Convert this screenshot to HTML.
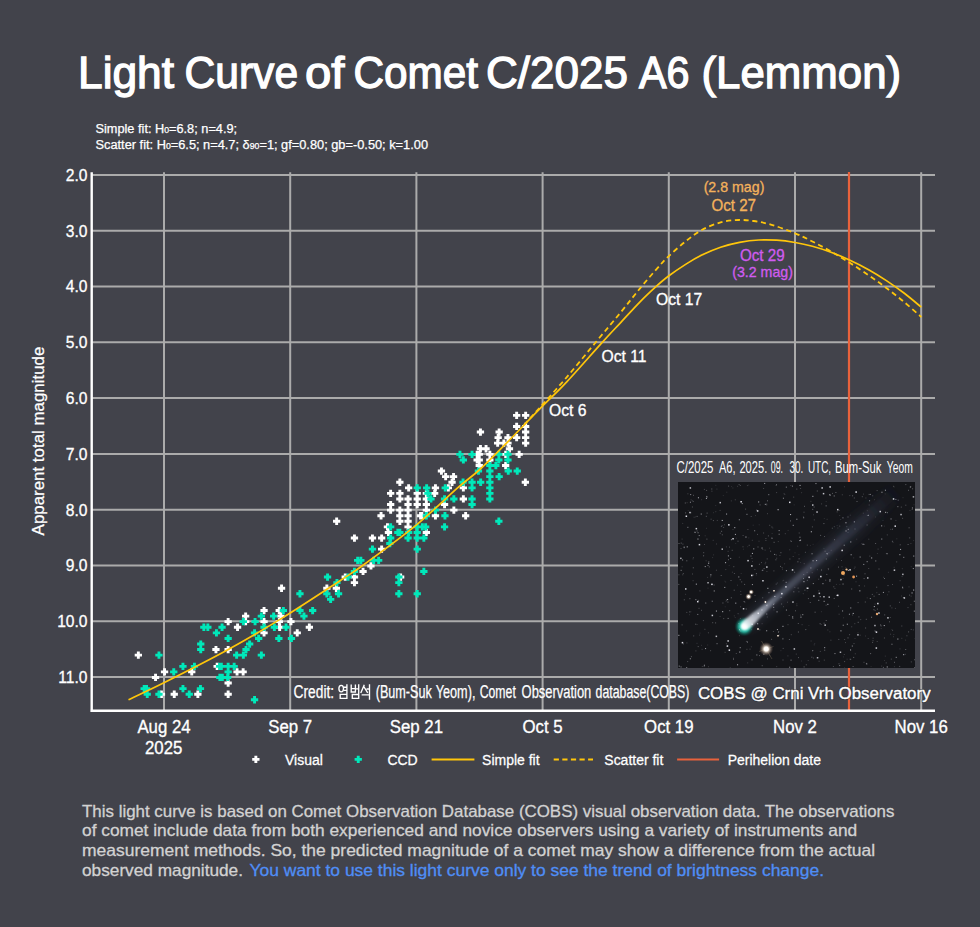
<!DOCTYPE html><html><head><meta charset="utf-8"><title>Light Curve</title>
<style>html,body{margin:0;padding:0;background:#42434b;}svg{display:block;}text{font-family:"Liberation Sans",sans-serif;}</style></head><body>
<svg width="980" height="927" viewBox="0 0 980 927">
<defs>
<radialGradient id="head"><stop offset="0" stop-color="#e0fff8"/><stop offset="0.3" stop-color="#6fe8d4"/><stop offset="0.55" stop-color="#27b8a2" stop-opacity="0.9"/><stop offset="0.8" stop-color="#11665c" stop-opacity="0.5"/><stop offset="1" stop-color="#0a3a36" stop-opacity="0"/></radialGradient>
<radialGradient id="star"><stop offset="0" stop-color="#ffffff"/><stop offset="0.3" stop-color="#fffaf4"/><stop offset="0.5" stop-color="#d8c8b8" stop-opacity="0.7"/><stop offset="1" stop-color="#806050" stop-opacity="0"/></radialGradient>
<linearGradient id="tail" x1="0" y1="0" x2="1" y2="0"><stop offset="0" stop-color="#a8b0c0" stop-opacity="0.6"/><stop offset="0.2" stop-color="#747c90" stop-opacity="0.5"/><stop offset="0.5" stop-color="#555b72" stop-opacity="0.4"/><stop offset="0.8" stop-color="#40455a" stop-opacity="0.25"/><stop offset="1" stop-color="#30344a" stop-opacity="0"/></linearGradient>
<filter id="b1" x="-20%" y="-200%" width="140%" height="500%"><feGaussianBlur stdDeviation="1.6"/></filter>
<filter id="b2" x="-20%" y="-300%" width="140%" height="700%"><feGaussianBlur stdDeviation="4"/></filter>
<filter id="b05" x="-20%" y="-100%" width="140%" height="300%"><feGaussianBlur stdDeviation="0.8"/></filter>
<linearGradient id="tail2" x1="0" y1="0" x2="1" y2="0"><stop offset="0" stop-color="#50586c" stop-opacity="0.35"/><stop offset="0.7" stop-color="#3a4054" stop-opacity="0.28"/><stop offset="1" stop-color="#2a2e3c" stop-opacity="0"/></linearGradient>
<linearGradient id="fan" x1="0" y1="0" x2="1" y2="0"><stop offset="0" stop-color="#ffffff" stop-opacity="0.95"/><stop offset="0.3" stop-color="#d8dce4" stop-opacity="0.75"/><stop offset="1" stop-color="#9098ac" stop-opacity="0.1"/></linearGradient>
<clipPath id="imgclip"><rect x="678" y="482" width="237" height="186"/></clipPath>
</defs>
<rect width="980" height="927" fill="#42434b"/>
<text x="78.00" y="88.3" font-size="44.6" fill="#fff" stroke="#fff" stroke-width="1.3" textLength="96.04" lengthAdjust="spacingAndGlyphs">Light</text>
<text x="184.50" y="88.3" font-size="44.6" fill="#fff" stroke="#fff" stroke-width="1.3" textLength="113.55" lengthAdjust="spacingAndGlyphs">Curve</text>
<text x="305.00" y="88.3" font-size="44.6" fill="#fff" stroke="#fff" stroke-width="1.3" textLength="39.51" lengthAdjust="spacingAndGlyphs">of</text>
<text x="353.50" y="88.3" font-size="44.6" fill="#fff" stroke="#fff" stroke-width="1.3" textLength="124.50" lengthAdjust="spacingAndGlyphs">Comet</text>
<text x="486.00" y="88.3" font-size="44.6" fill="#fff" stroke="#fff" stroke-width="1.3" textLength="142.03" lengthAdjust="spacingAndGlyphs">C/2025</text>
<text x="639.00" y="88.3" font-size="44.6" fill="#fff" stroke="#fff" stroke-width="1.3" textLength="50.53" lengthAdjust="spacingAndGlyphs">A6</text>
<text x="701.50" y="88.3" font-size="44.6" fill="#fff" stroke="#fff" stroke-width="1.3" textLength="199.58" lengthAdjust="spacingAndGlyphs">(Lemmon)</text>
<text x="95.5" y="133" font-size="12.5" fill="#fff" stroke="#fff" stroke-width="0.25" textLength="141.6" lengthAdjust="spacingAndGlyphs">Simple fit: H<tspan font-size="8.5">0</tspan>=6.8; n=4.9;</text>
<text x="95.5" y="149" font-size="12.5" fill="#fff" stroke="#fff" stroke-width="0.25" textLength="332.5" lengthAdjust="spacingAndGlyphs">Scatter fit: H<tspan font-size="8.5">0</tspan>=6.5; n=4.7; δ<tspan font-size="8.5">90</tspan>=1; gf=0.80; gb=-0.50; k=1.00</text>
<path d="M92 175.00H935M92 230.78H935M92 286.56H935M92 342.34H935M92 398.12H935M92 453.90H935M92 509.68H935M92 565.46H935M92 621.24H935M92 677.02H935M164.0 172.3V710M290.2 172.3V710M416.4 172.3V710M542.6 172.3V710M668.8 172.3V710M795.0 172.3V710M921.2 172.3V710" stroke="#ababab" stroke-width="2" fill="none"/>
<path d="M849 172V710" stroke="#e8623c" stroke-width="2.2" fill="none"/>
<path d="M136.9 651.5h2.9v2.2h2.2v2.9h-2.2v2.2h-2.9v-2.2h-2.2v-2.9h2.2zM154.1 673.8h2.9v2.2h2.2v2.9h-2.2v2.2h-2.9v-2.2h-2.2v-2.9h2.2zM163.1 668.2h2.9v2.2h2.2v2.9h-2.2v2.2h-2.9v-2.2h-2.2v-2.9h2.2zM160.0 690.6h2.9v2.2h2.2v2.9h-2.2v2.2h-2.9v-2.2h-2.2v-2.9h2.2zM172.8 690.6h2.9v2.2h2.2v2.9h-2.2v2.2h-2.9v-2.2h-2.2v-2.9h2.2zM190.3 668.2h2.9v2.2h2.2v2.9h-2.2v2.2h-2.9v-2.2h-2.2v-2.9h2.2zM196.4 690.6h2.9v2.2h2.2v2.9h-2.2v2.2h-2.9v-2.2h-2.2v-2.9h2.2zM214.5 645.9h2.9v2.2h2.2v2.9h-2.2v2.2h-2.9v-2.2h-2.2v-2.9h2.2zM215.7 662.7h2.9v2.2h2.2v2.9h-2.2v2.2h-2.9v-2.2h-2.2v-2.9h2.2zM226.7 618.0h2.9v2.2h2.2v2.9h-2.2v2.2h-2.9v-2.2h-2.2v-2.9h2.2zM226.7 645.9h2.9v2.2h2.2v2.9h-2.2v2.2h-2.9v-2.2h-2.2v-2.9h2.2zM226.7 679.4h2.9v2.2h2.2v2.9h-2.2v2.2h-2.9v-2.2h-2.2v-2.9h2.2zM226.7 690.6h2.9v2.2h2.2v2.9h-2.2v2.2h-2.9v-2.2h-2.2v-2.9h2.2zM236.1 623.6h2.9v2.2h2.2v2.9h-2.2v2.2h-2.9v-2.2h-2.2v-2.9h2.2zM235.6 668.2h2.9v2.2h2.2v2.9h-2.2v2.2h-2.9v-2.2h-2.2v-2.9h2.2zM241.7 668.2h2.9v2.2h2.2v2.9h-2.2v2.2h-2.9v-2.2h-2.2v-2.9h2.2zM244.2 612.5h2.9v2.2h2.2v2.9h-2.2v2.2h-2.9v-2.2h-2.2v-2.9h2.2zM244.2 618.0h2.9v2.2h2.2v2.9h-2.2v2.2h-2.9v-2.2h-2.2v-2.9h2.2zM262.6 606.9h2.9v2.2h2.2v2.9h-2.2v2.2h-2.9v-2.2h-2.2v-2.9h2.2zM262.6 618.0h2.9v2.2h2.2v2.9h-2.2v2.2h-2.9v-2.2h-2.2v-2.9h2.2zM262.6 629.2h2.9v2.2h2.2v2.9h-2.2v2.2h-2.9v-2.2h-2.2v-2.9h2.2zM277.8 606.9h2.9v2.2h2.2v2.9h-2.2v2.2h-2.9v-2.2h-2.2v-2.9h2.2zM280.1 584.6h2.9v2.2h2.2v2.9h-2.2v2.2h-2.9v-2.2h-2.2v-2.9h2.2zM279.4 612.5h2.9v2.2h2.2v2.9h-2.2v2.2h-2.9v-2.2h-2.2v-2.9h2.2zM278.2 623.6h2.9v2.2h2.2v2.9h-2.2v2.2h-2.9v-2.2h-2.2v-2.9h2.2zM289.5 618.0h2.9v2.2h2.2v2.9h-2.2v2.2h-2.9v-2.2h-2.2v-2.9h2.2zM295.8 629.2h2.9v2.2h2.2v2.9h-2.2v2.2h-2.9v-2.2h-2.2v-2.9h2.2zM307.9 623.6h2.9v2.2h2.2v2.9h-2.2v2.2h-2.9v-2.2h-2.2v-2.9h2.2zM325.4 584.6h2.9v2.2h2.2v2.9h-2.2v2.2h-2.9v-2.2h-2.2v-2.9h2.2zM334.9 584.6h2.9v2.2h2.2v2.9h-2.2v2.2h-2.9v-2.2h-2.2v-2.9h2.2zM335.2 517.6h2.9v2.2h2.2v2.9h-2.2v2.2h-2.9v-2.2h-2.2v-2.9h2.2zM353.0 534.4h2.9v2.2h2.2v2.9h-2.2v2.2h-2.9v-2.2h-2.2v-2.9h2.2zM371.0 534.4h2.9v2.2h2.2v2.9h-2.2v2.2h-2.9v-2.2h-2.2v-2.9h2.2zM380.2 534.4h2.9v2.2h2.2v2.9h-2.2v2.2h-2.9v-2.2h-2.2v-2.9h2.2zM379.6 512.1h2.9v2.2h2.2v2.9h-2.2v2.2h-2.9v-2.2h-2.2v-2.9h2.2zM380.2 545.5h2.9v2.2h2.2v2.9h-2.2v2.2h-2.9v-2.2h-2.2v-2.9h2.2zM369.5 562.3h2.9v2.2h2.2v2.9h-2.2v2.2h-2.9v-2.2h-2.2v-2.9h2.2zM361.6 567.8h2.9v2.2h2.2v2.9h-2.2v2.2h-2.9v-2.2h-2.2v-2.9h2.2zM353.0 573.4h2.9v2.2h2.2v2.9h-2.2v2.2h-2.9v-2.2h-2.2v-2.9h2.2zM353.0 579.0h2.9v2.2h2.2v2.9h-2.2v2.2h-2.9v-2.2h-2.2v-2.9h2.2zM343.8 573.4h2.9v2.2h2.2v2.9h-2.2v2.2h-2.9v-2.2h-2.2v-2.9h2.2zM389.2 489.7h2.9v2.2h2.2v2.9h-2.2v2.2h-2.9v-2.2h-2.2v-2.9h2.2zM389.2 500.9h2.9v2.2h2.2v2.9h-2.2v2.2h-2.9v-2.2h-2.2v-2.9h2.2zM389.2 506.5h2.9v2.2h2.2v2.9h-2.2v2.2h-2.9v-2.2h-2.2v-2.9h2.2zM386.0 523.2h2.9v2.2h2.2v2.9h-2.2v2.2h-2.9v-2.2h-2.2v-2.9h2.2zM387.0 528.8h2.9v2.2h2.2v2.9h-2.2v2.2h-2.9v-2.2h-2.2v-2.9h2.2zM398.4 478.6h2.9v2.2h2.2v2.9h-2.2v2.2h-2.9v-2.2h-2.2v-2.9h2.2zM398.4 489.7h2.9v2.2h2.2v2.9h-2.2v2.2h-2.9v-2.2h-2.2v-2.9h2.2zM398.4 495.3h2.9v2.2h2.2v2.9h-2.2v2.2h-2.9v-2.2h-2.2v-2.9h2.2zM398.4 506.5h2.9v2.2h2.2v2.9h-2.2v2.2h-2.9v-2.2h-2.2v-2.9h2.2zM398.4 512.1h2.9v2.2h2.2v2.9h-2.2v2.2h-2.9v-2.2h-2.2v-2.9h2.2zM398.4 517.6h2.9v2.2h2.2v2.9h-2.2v2.2h-2.9v-2.2h-2.2v-2.9h2.2zM407.2 484.2h2.9v2.2h2.2v2.9h-2.2v2.2h-2.9v-2.2h-2.2v-2.9h2.2zM406.6 495.3h2.9v2.2h2.2v2.9h-2.2v2.2h-2.9v-2.2h-2.2v-2.9h2.2zM406.6 500.9h2.9v2.2h2.2v2.9h-2.2v2.2h-2.9v-2.2h-2.2v-2.9h2.2zM406.6 506.5h2.9v2.2h2.2v2.9h-2.2v2.2h-2.9v-2.2h-2.2v-2.9h2.2zM406.6 512.1h2.9v2.2h2.2v2.9h-2.2v2.2h-2.9v-2.2h-2.2v-2.9h2.2zM406.6 517.6h2.9v2.2h2.2v2.9h-2.2v2.2h-2.9v-2.2h-2.2v-2.9h2.2zM406.6 523.2h2.9v2.2h2.2v2.9h-2.2v2.2h-2.9v-2.2h-2.2v-2.9h2.2zM415.8 489.7h2.9v2.2h2.2v2.9h-2.2v2.2h-2.9v-2.2h-2.2v-2.9h2.2zM415.8 495.3h2.9v2.2h2.2v2.9h-2.2v2.2h-2.9v-2.2h-2.2v-2.9h2.2zM415.8 500.9h2.9v2.2h2.2v2.9h-2.2v2.2h-2.9v-2.2h-2.2v-2.9h2.2zM419.1 512.1h2.9v2.2h2.2v2.9h-2.2v2.2h-2.9v-2.2h-2.2v-2.9h2.2zM399.2 573.4h2.9v2.2h2.2v2.9h-2.2v2.2h-2.9v-2.2h-2.2v-2.9h2.2zM515.2 411.7h2.9v2.2h2.2v2.9h-2.2v2.2h-2.9v-2.2h-2.2v-2.9h2.2zM524.2 411.7h2.9v2.2h2.2v2.9h-2.2v2.2h-2.9v-2.2h-2.2v-2.9h2.2zM515.2 422.8h2.9v2.2h2.2v2.9h-2.2v2.2h-2.9v-2.2h-2.2v-2.9h2.2zM524.2 422.8h2.9v2.2h2.2v2.9h-2.2v2.2h-2.9v-2.2h-2.2v-2.9h2.2zM524.2 428.4h2.9v2.2h2.2v2.9h-2.2v2.2h-2.9v-2.2h-2.2v-2.9h2.2zM524.2 434.0h2.9v2.2h2.2v2.9h-2.2v2.2h-2.9v-2.2h-2.2v-2.9h2.2zM524.2 439.5h2.9v2.2h2.2v2.9h-2.2v2.2h-2.9v-2.2h-2.2v-2.9h2.2zM515.2 434.0h2.9v2.2h2.2v2.9h-2.2v2.2h-2.9v-2.2h-2.2v-2.9h2.2zM479.0 428.4h2.9v2.2h2.2v2.9h-2.2v2.2h-2.9v-2.2h-2.2v-2.9h2.2zM497.7 428.4h2.9v2.2h2.2v2.9h-2.2v2.2h-2.9v-2.2h-2.2v-2.9h2.2zM496.7 434.0h2.9v2.2h2.2v2.9h-2.2v2.2h-2.9v-2.2h-2.2v-2.9h2.2zM496.2 439.5h2.9v2.2h2.2v2.9h-2.2v2.2h-2.9v-2.2h-2.2v-2.9h2.2zM506.5 434.0h2.9v2.2h2.2v2.9h-2.2v2.2h-2.9v-2.2h-2.2v-2.9h2.2zM506.5 439.5h2.9v2.2h2.2v2.9h-2.2v2.2h-2.9v-2.2h-2.2v-2.9h2.2zM508.0 445.1h2.9v2.2h2.2v2.9h-2.2v2.2h-2.9v-2.2h-2.2v-2.9h2.2zM517.7 450.7h2.9v2.2h2.2v2.9h-2.2v2.2h-2.9v-2.2h-2.2v-2.9h2.2zM479.0 445.1h2.9v2.2h2.2v2.9h-2.2v2.2h-2.9v-2.2h-2.2v-2.9h2.2zM484.6 445.1h2.9v2.2h2.2v2.9h-2.2v2.2h-2.9v-2.2h-2.2v-2.9h2.2zM477.8 450.7h2.9v2.2h2.2v2.9h-2.2v2.2h-2.9v-2.2h-2.2v-2.9h2.2zM477.8 456.3h2.9v2.2h2.2v2.9h-2.2v2.2h-2.9v-2.2h-2.2v-2.9h2.2zM477.8 461.9h2.9v2.2h2.2v2.9h-2.2v2.2h-2.9v-2.2h-2.2v-2.9h2.2zM488.4 450.7h2.9v2.2h2.2v2.9h-2.2v2.2h-2.9v-2.2h-2.2v-2.9h2.2zM504.2 461.9h2.9v2.2h2.2v2.9h-2.2v2.2h-2.9v-2.2h-2.2v-2.9h2.2zM504.2 450.7h2.9v2.2h2.2v2.9h-2.2v2.2h-2.9v-2.2h-2.2v-2.9h2.2zM523.9 478.6h2.9v2.2h2.2v2.9h-2.2v2.2h-2.9v-2.2h-2.2v-2.9h2.2zM440.0 467.4h2.9v2.2h2.2v2.9h-2.2v2.2h-2.9v-2.2h-2.2v-2.9h2.2zM444.2 473.0h2.9v2.2h2.2v2.9h-2.2v2.2h-2.9v-2.2h-2.2v-2.9h2.2zM452.1 473.0h2.9v2.2h2.2v2.9h-2.2v2.2h-2.9v-2.2h-2.2v-2.9h2.2zM450.6 478.6h2.9v2.2h2.2v2.9h-2.2v2.2h-2.9v-2.2h-2.2v-2.9h2.2zM446.9 484.2h2.9v2.2h2.2v2.9h-2.2v2.2h-2.9v-2.2h-2.2v-2.9h2.2zM434.0 484.2h2.9v2.2h2.2v2.9h-2.2v2.2h-2.9v-2.2h-2.2v-2.9h2.2zM433.2 489.7h2.9v2.2h2.2v2.9h-2.2v2.2h-2.9v-2.2h-2.2v-2.9h2.2zM461.9 484.2h2.9v2.2h2.2v2.9h-2.2v2.2h-2.9v-2.2h-2.2v-2.9h2.2zM461.9 495.3h2.9v2.2h2.2v2.9h-2.2v2.2h-2.9v-2.2h-2.2v-2.9h2.2zM443.1 500.9h2.9v2.2h2.2v2.9h-2.2v2.2h-2.9v-2.2h-2.2v-2.9h2.2zM452.4 506.5h2.9v2.2h2.2v2.9h-2.2v2.2h-2.9v-2.2h-2.2v-2.9h2.2zM464.2 512.1h2.9v2.2h2.2v2.9h-2.2v2.2h-2.9v-2.2h-2.2v-2.9h2.2zM434.0 512.1h2.9v2.2h2.2v2.9h-2.2v2.2h-2.9v-2.2h-2.2v-2.9h2.2zM424.9 489.7h2.9v2.2h2.2v2.9h-2.2v2.2h-2.9v-2.2h-2.2v-2.9h2.2zM424.9 495.3h2.9v2.2h2.2v2.9h-2.2v2.2h-2.9v-2.2h-2.2v-2.9h2.2zM424.9 500.9h2.9v2.2h2.2v2.9h-2.2v2.2h-2.9v-2.2h-2.2v-2.9h2.2zM424.9 506.5h2.9v2.2h2.2v2.9h-2.2v2.2h-2.9v-2.2h-2.2v-2.9h2.2zM424.9 528.8h2.9v2.2h2.2v2.9h-2.2v2.2h-2.9v-2.2h-2.2v-2.9h2.2zM420.4 512.1h2.9v2.2h2.2v2.9h-2.2v2.2h-2.9v-2.2h-2.2v-2.9h2.2zM277.9 618.0h2.9v2.2h2.2v2.9h-2.2v2.2h-2.9v-2.2h-2.2v-2.9h2.2zM488.4 456.3h2.9v2.2h2.2v2.9h-2.2v2.2h-2.9v-2.2h-2.2v-2.9h2.2zM475.7 450.7h2.9v2.2h2.2v2.9h-2.2v2.2h-2.9v-2.2h-2.2v-2.9h2.2zM475.7 456.3h2.9v2.2h2.2v2.9h-2.2v2.2h-2.9v-2.2h-2.2v-2.9h2.2zM502.4 439.5h2.9v2.2h2.2v2.9h-2.2v2.2h-2.9v-2.2h-2.2v-2.9h2.2z" fill="#ffffff"/>
<path d="M157.5 651.5h2.9v2.2h2.2v2.9h-2.2v2.2h-2.9v-2.2h-2.2v-2.9h2.2zM142.7 685.0h2.9v2.2h2.2v2.9h-2.2v2.2h-2.9v-2.2h-2.2v-2.9h2.2zM145.1 685.0h2.9v2.2h2.2v2.9h-2.2v2.2h-2.9v-2.2h-2.2v-2.9h2.2zM218.2 662.7h2.9v2.2h2.2v2.9h-2.2v2.2h-2.9v-2.2h-2.2v-2.9h2.2zM220.9 673.8h2.9v2.2h2.2v2.9h-2.2v2.2h-2.9v-2.2h-2.2v-2.9h2.2zM145.8 690.6h2.9v2.2h2.2v2.9h-2.2v2.2h-2.9v-2.2h-2.2v-2.9h2.2zM157.5 690.6h2.9v2.2h2.2v2.9h-2.2v2.2h-2.9v-2.2h-2.2v-2.9h2.2zM172.3 668.2h2.9v2.2h2.2v2.9h-2.2v2.2h-2.9v-2.2h-2.2v-2.9h2.2zM181.5 662.7h2.9v2.2h2.2v2.9h-2.2v2.2h-2.9v-2.2h-2.2v-2.9h2.2zM181.5 685.0h2.9v2.2h2.2v2.9h-2.2v2.2h-2.9v-2.2h-2.2v-2.9h2.2zM187.8 690.6h2.9v2.2h2.2v2.9h-2.2v2.2h-2.9v-2.2h-2.2v-2.9h2.2zM193.0 662.7h2.9v2.2h2.2v2.9h-2.2v2.2h-2.9v-2.2h-2.2v-2.9h2.2zM199.0 685.0h2.9v2.2h2.2v2.9h-2.2v2.2h-2.9v-2.2h-2.2v-2.9h2.2zM199.3 640.4h2.9v2.2h2.2v2.9h-2.2v2.2h-2.9v-2.2h-2.2v-2.9h2.2zM199.3 645.9h2.9v2.2h2.2v2.9h-2.2v2.2h-2.9v-2.2h-2.2v-2.9h2.2zM202.4 623.6h2.9v2.2h2.2v2.9h-2.2v2.2h-2.9v-2.2h-2.2v-2.9h2.2zM206.4 623.6h2.9v2.2h2.2v2.9h-2.2v2.2h-2.9v-2.2h-2.2v-2.9h2.2zM215.0 629.2h2.9v2.2h2.2v2.9h-2.2v2.2h-2.9v-2.2h-2.2v-2.9h2.2zM220.6 623.6h2.9v2.2h2.2v2.9h-2.2v2.2h-2.9v-2.2h-2.2v-2.9h2.2zM219.9 662.7h2.9v2.2h2.2v2.9h-2.2v2.2h-2.9v-2.2h-2.2v-2.9h2.2zM226.7 662.7h2.9v2.2h2.2v2.9h-2.2v2.2h-2.9v-2.2h-2.2v-2.9h2.2zM232.7 662.7h2.9v2.2h2.2v2.9h-2.2v2.2h-2.9v-2.2h-2.2v-2.9h2.2zM226.7 668.2h2.9v2.2h2.2v2.9h-2.2v2.2h-2.9v-2.2h-2.2v-2.9h2.2zM218.4 673.8h2.9v2.2h2.2v2.9h-2.2v2.2h-2.9v-2.2h-2.2v-2.9h2.2zM226.2 673.8h2.9v2.2h2.2v2.9h-2.2v2.2h-2.9v-2.2h-2.2v-2.9h2.2zM226.7 634.8h2.9v2.2h2.2v2.9h-2.2v2.2h-2.9v-2.2h-2.2v-2.9h2.2zM235.2 651.5h2.9v2.2h2.2v2.9h-2.2v2.2h-2.9v-2.2h-2.2v-2.9h2.2zM241.9 651.5h2.9v2.2h2.2v2.9h-2.2v2.2h-2.9v-2.2h-2.2v-2.9h2.2zM241.9 618.0h2.9v2.2h2.2v2.9h-2.2v2.2h-2.9v-2.2h-2.2v-2.9h2.2zM244.6 645.9h2.9v2.2h2.2v2.9h-2.2v2.2h-2.9v-2.2h-2.2v-2.9h2.2zM248.2 640.4h2.9v2.2h2.2v2.9h-2.2v2.2h-2.9v-2.2h-2.2v-2.9h2.2zM253.1 629.2h2.9v2.2h2.2v2.9h-2.2v2.2h-2.9v-2.2h-2.2v-2.9h2.2zM253.6 618.0h2.9v2.2h2.2v2.9h-2.2v2.2h-2.9v-2.2h-2.2v-2.9h2.2zM257.2 634.8h2.9v2.2h2.2v2.9h-2.2v2.2h-2.9v-2.2h-2.2v-2.9h2.2zM259.9 612.5h2.9v2.2h2.2v2.9h-2.2v2.2h-2.9v-2.2h-2.2v-2.9h2.2zM259.9 651.5h2.9v2.2h2.2v2.9h-2.2v2.2h-2.9v-2.2h-2.2v-2.9h2.2zM262.6 623.6h2.9v2.2h2.2v2.9h-2.2v2.2h-2.9v-2.2h-2.2v-2.9h2.2zM253.1 696.1h2.9v2.2h2.2v2.9h-2.2v2.2h-2.9v-2.2h-2.2v-2.9h2.2zM272.2 612.5h2.9v2.2h2.2v2.9h-2.2v2.2h-2.9v-2.2h-2.2v-2.9h2.2zM272.9 623.6h2.9v2.2h2.2v2.9h-2.2v2.2h-2.9v-2.2h-2.2v-2.9h2.2zM277.4 634.8h2.9v2.2h2.2v2.9h-2.2v2.2h-2.9v-2.2h-2.2v-2.9h2.2zM281.9 606.9h2.9v2.2h2.2v2.9h-2.2v2.2h-2.9v-2.2h-2.2v-2.9h2.2zM284.6 623.6h2.9v2.2h2.2v2.9h-2.2v2.2h-2.9v-2.2h-2.2v-2.9h2.2zM290.0 634.8h2.9v2.2h2.2v2.9h-2.2v2.2h-2.9v-2.2h-2.2v-2.9h2.2zM298.5 590.1h2.9v2.2h2.2v2.9h-2.2v2.2h-2.9v-2.2h-2.2v-2.9h2.2zM298.5 606.9h2.9v2.2h2.2v2.9h-2.2v2.2h-2.9v-2.2h-2.2v-2.9h2.2zM302.5 612.5h2.9v2.2h2.2v2.9h-2.2v2.2h-2.9v-2.2h-2.2v-2.9h2.2zM311.2 606.9h2.9v2.2h2.2v2.9h-2.2v2.2h-2.9v-2.2h-2.2v-2.9h2.2zM326.1 573.4h2.9v2.2h2.2v2.9h-2.2v2.2h-2.9v-2.2h-2.2v-2.9h2.2zM325.4 590.1h2.9v2.2h2.2v2.9h-2.2v2.2h-2.9v-2.2h-2.2v-2.9h2.2zM329.2 595.7h2.9v2.2h2.2v2.9h-2.2v2.2h-2.9v-2.2h-2.2v-2.9h2.2zM335.5 579.0h2.9v2.2h2.2v2.9h-2.2v2.2h-2.9v-2.2h-2.2v-2.9h2.2zM337.1 590.1h2.9v2.2h2.2v2.9h-2.2v2.2h-2.9v-2.2h-2.2v-2.9h2.2zM346.6 573.4h2.9v2.2h2.2v2.9h-2.2v2.2h-2.9v-2.2h-2.2v-2.9h2.2zM353.0 567.8h2.9v2.2h2.2v2.9h-2.2v2.2h-2.9v-2.2h-2.2v-2.9h2.2zM356.2 556.7h2.9v2.2h2.2v2.9h-2.2v2.2h-2.9v-2.2h-2.2v-2.9h2.2zM359.4 556.7h2.9v2.2h2.2v2.9h-2.2v2.2h-2.9v-2.2h-2.2v-2.9h2.2zM371.0 545.5h2.9v2.2h2.2v2.9h-2.2v2.2h-2.9v-2.2h-2.2v-2.9h2.2zM372.2 556.7h2.9v2.2h2.2v2.9h-2.2v2.2h-2.9v-2.2h-2.2v-2.9h2.2zM377.2 556.7h2.9v2.2h2.2v2.9h-2.2v2.2h-2.9v-2.2h-2.2v-2.9h2.2zM389.2 523.2h2.9v2.2h2.2v2.9h-2.2v2.2h-2.9v-2.2h-2.2v-2.9h2.2zM389.2 534.4h2.9v2.2h2.2v2.9h-2.2v2.2h-2.9v-2.2h-2.2v-2.9h2.2zM388.4 539.9h2.9v2.2h2.2v2.9h-2.2v2.2h-2.9v-2.2h-2.2v-2.9h2.2zM398.4 528.8h2.9v2.2h2.2v2.9h-2.2v2.2h-2.9v-2.2h-2.2v-2.9h2.2zM396.4 528.8h2.9v2.2h2.2v2.9h-2.2v2.2h-2.9v-2.2h-2.2v-2.9h2.2zM407.2 528.8h2.9v2.2h2.2v2.9h-2.2v2.2h-2.9v-2.2h-2.2v-2.9h2.2zM406.6 534.4h2.9v2.2h2.2v2.9h-2.2v2.2h-2.9v-2.2h-2.2v-2.9h2.2zM415.8 484.2h2.9v2.2h2.2v2.9h-2.2v2.2h-2.9v-2.2h-2.2v-2.9h2.2zM415.8 523.2h2.9v2.2h2.2v2.9h-2.2v2.2h-2.9v-2.2h-2.2v-2.9h2.2zM415.8 528.8h2.9v2.2h2.2v2.9h-2.2v2.2h-2.9v-2.2h-2.2v-2.9h2.2zM415.8 534.4h2.9v2.2h2.2v2.9h-2.2v2.2h-2.9v-2.2h-2.2v-2.9h2.2zM415.8 545.5h2.9v2.2h2.2v2.9h-2.2v2.2h-2.9v-2.2h-2.2v-2.9h2.2zM415.8 590.1h2.9v2.2h2.2v2.9h-2.2v2.2h-2.9v-2.2h-2.2v-2.9h2.2zM397.4 590.1h2.9v2.2h2.2v2.9h-2.2v2.2h-2.9v-2.2h-2.2v-2.9h2.2zM397.4 573.4h2.9v2.2h2.2v2.9h-2.2v2.2h-2.9v-2.2h-2.2v-2.9h2.2zM397.4 579.0h2.9v2.2h2.2v2.9h-2.2v2.2h-2.9v-2.2h-2.2v-2.9h2.2zM422.4 567.8h2.9v2.2h2.2v2.9h-2.2v2.2h-2.9v-2.2h-2.2v-2.9h2.2zM420.9 523.2h2.9v2.2h2.2v2.9h-2.2v2.2h-2.9v-2.2h-2.2v-2.9h2.2zM422.4 534.4h2.9v2.2h2.2v2.9h-2.2v2.2h-2.9v-2.2h-2.2v-2.9h2.2zM458.5 450.7h2.9v2.2h2.2v2.9h-2.2v2.2h-2.9v-2.2h-2.2v-2.9h2.2zM461.9 456.3h2.9v2.2h2.2v2.9h-2.2v2.2h-2.9v-2.2h-2.2v-2.9h2.2zM470.6 450.7h2.9v2.2h2.2v2.9h-2.2v2.2h-2.9v-2.2h-2.2v-2.9h2.2zM477.0 467.4h2.9v2.2h2.2v2.9h-2.2v2.2h-2.9v-2.2h-2.2v-2.9h2.2zM488.4 461.9h2.9v2.2h2.2v2.9h-2.2v2.2h-2.9v-2.2h-2.2v-2.9h2.2zM488.4 467.4h2.9v2.2h2.2v2.9h-2.2v2.2h-2.9v-2.2h-2.2v-2.9h2.2zM488.4 473.0h2.9v2.2h2.2v2.9h-2.2v2.2h-2.9v-2.2h-2.2v-2.9h2.2zM488.4 478.6h2.9v2.2h2.2v2.9h-2.2v2.2h-2.9v-2.2h-2.2v-2.9h2.2zM488.4 484.2h2.9v2.2h2.2v2.9h-2.2v2.2h-2.9v-2.2h-2.2v-2.9h2.2zM488.4 489.7h2.9v2.2h2.2v2.9h-2.2v2.2h-2.9v-2.2h-2.2v-2.9h2.2zM488.4 495.3h2.9v2.2h2.2v2.9h-2.2v2.2h-2.9v-2.2h-2.2v-2.9h2.2zM494.4 461.9h2.9v2.2h2.2v2.9h-2.2v2.2h-2.9v-2.2h-2.2v-2.9h2.2zM497.4 450.7h2.9v2.2h2.2v2.9h-2.2v2.2h-2.9v-2.2h-2.2v-2.9h2.2zM497.4 456.3h2.9v2.2h2.2v2.9h-2.2v2.2h-2.9v-2.2h-2.2v-2.9h2.2zM497.7 473.0h2.9v2.2h2.2v2.9h-2.2v2.2h-2.9v-2.2h-2.2v-2.9h2.2zM506.5 450.7h2.9v2.2h2.2v2.9h-2.2v2.2h-2.9v-2.2h-2.2v-2.9h2.2zM506.5 456.3h2.9v2.2h2.2v2.9h-2.2v2.2h-2.9v-2.2h-2.2v-2.9h2.2zM506.8 467.4h2.9v2.2h2.2v2.9h-2.2v2.2h-2.9v-2.2h-2.2v-2.9h2.2zM515.8 467.4h2.9v2.2h2.2v2.9h-2.2v2.2h-2.9v-2.2h-2.2v-2.9h2.2zM479.2 478.6h2.9v2.2h2.2v2.9h-2.2v2.2h-2.9v-2.2h-2.2v-2.9h2.2zM470.6 478.6h2.9v2.2h2.2v2.9h-2.2v2.2h-2.9v-2.2h-2.2v-2.9h2.2zM470.6 484.2h2.9v2.2h2.2v2.9h-2.2v2.2h-2.9v-2.2h-2.2v-2.9h2.2zM470.6 495.3h2.9v2.2h2.2v2.9h-2.2v2.2h-2.9v-2.2h-2.2v-2.9h2.2zM470.6 500.9h2.9v2.2h2.2v2.9h-2.2v2.2h-2.9v-2.2h-2.2v-2.9h2.2zM461.6 478.6h2.9v2.2h2.2v2.9h-2.2v2.2h-2.9v-2.2h-2.2v-2.9h2.2zM452.4 495.3h2.9v2.2h2.2v2.9h-2.2v2.2h-2.9v-2.2h-2.2v-2.9h2.2zM443.1 495.3h2.9v2.2h2.2v2.9h-2.2v2.2h-2.9v-2.2h-2.2v-2.9h2.2zM443.8 484.2h2.9v2.2h2.2v2.9h-2.2v2.2h-2.9v-2.2h-2.2v-2.9h2.2zM425.2 484.2h2.9v2.2h2.2v2.9h-2.2v2.2h-2.9v-2.2h-2.2v-2.9h2.2zM426.5 489.7h2.9v2.2h2.2v2.9h-2.2v2.2h-2.9v-2.2h-2.2v-2.9h2.2zM429.5 495.3h2.9v2.2h2.2v2.9h-2.2v2.2h-2.9v-2.2h-2.2v-2.9h2.2zM434.0 506.5h2.9v2.2h2.2v2.9h-2.2v2.2h-2.9v-2.2h-2.2v-2.9h2.2zM424.9 512.1h2.9v2.2h2.2v2.9h-2.2v2.2h-2.9v-2.2h-2.2v-2.9h2.2zM443.5 512.1h2.9v2.2h2.2v2.9h-2.2v2.2h-2.9v-2.2h-2.2v-2.9h2.2zM443.1 523.2h2.9v2.2h2.2v2.9h-2.2v2.2h-2.9v-2.2h-2.2v-2.9h2.2zM424.2 523.2h2.9v2.2h2.2v2.9h-2.2v2.2h-2.9v-2.2h-2.2v-2.9h2.2zM497.4 517.6h2.9v2.2h2.2v2.9h-2.2v2.2h-2.9v-2.2h-2.2v-2.9h2.2z" fill="#00e8ba"/>
<path d="M524.0 424.8 C526.7 421.9 532.8 415.4 540.0 407.4 C547.2 399.4 557.6 387.9 567.0 376.9 C576.4 365.9 587.6 352.0 596.6 341.2 C605.6 330.4 613.7 320.9 620.9 312.1 C628.1 303.3 634.0 295.7 639.8 288.6 C645.6 281.6 651.1 275.2 655.9 269.8 C660.7 264.4 663.6 261.0 668.6 256.3 C673.6 251.6 680.1 245.8 685.6 241.4 C691.1 237.0 696.0 233.2 701.8 230.0 C707.6 226.8 714.5 224.1 720.6 222.4 C726.7 220.7 733.0 220.2 738.5 220.0 C744.0 219.8 748.3 220.2 753.8 221.0 C759.3 221.8 764.7 222.8 771.6 224.8 C778.5 226.9 788.3 230.5 795.1 233.3 C801.9 236.1 806.5 238.5 812.4 241.5 C818.3 244.5 824.2 247.6 830.3 251.1 C836.4 254.6 842.5 258.3 848.9 262.3 C855.3 266.3 862.4 270.9 868.6 275.2 C874.9 279.5 880.5 283.5 886.4 288.0 C892.3 292.5 898.5 297.2 904.3 302.1 C910.1 307.0 918.5 314.6 921.4 317.1" stroke="#ffc60a" stroke-width="1.8" fill="none" stroke-dasharray="5.2 3.6"/>
<path d="M128.5 699.8 C134.6 696.9 148.3 690.6 164.9 682.3 C181.5 674.0 208.4 660.4 227.8 649.8 C247.2 639.1 262.9 629.9 281.6 618.4 C300.3 606.9 326.1 589.8 340.0 580.7 C353.9 571.6 352.4 573.0 365.1 563.7 C377.8 554.4 400.9 537.7 416.2 525.1 C431.5 512.5 446.3 497.8 457.0 488.4 C467.7 479.0 471.6 477.1 480.4 469.0 C489.2 460.9 500.1 449.6 510.0 439.5 C519.9 429.4 530.5 418.2 540.0 408.6 C549.5 399.0 556.7 392.6 567.0 381.6 C577.3 370.6 593.0 352.5 602.0 342.6 C611.0 332.7 614.6 329.1 620.9 322.3 C627.2 315.6 634.0 308.0 639.8 302.1 C645.6 296.2 651.1 291.1 655.9 286.7 C660.7 282.3 663.6 279.7 668.6 276.0 C673.6 272.3 680.1 267.9 685.6 264.4 C691.1 260.9 696.0 258.0 701.8 255.1 C707.6 252.2 714.3 249.3 720.6 247.2 C726.9 245.1 733.1 243.5 739.5 242.3 C745.9 241.1 752.7 240.3 758.9 240.0 C765.1 239.7 770.7 239.8 776.7 240.2 C782.7 240.6 789.2 241.5 795.1 242.5 C801.0 243.5 806.5 244.7 812.4 246.3 C818.3 247.9 824.2 249.8 830.3 252.0 C836.4 254.2 842.5 256.8 848.9 259.7 C855.3 262.6 862.4 266.2 868.6 269.7 C874.9 273.2 880.5 276.7 886.4 280.6 C892.3 284.5 898.5 288.9 904.3 293.3 C910.1 297.7 918.5 304.9 921.4 307.2" stroke="#ffc60a" stroke-width="1.7" fill="none"/>
<g clip-path="url(#imgclip)">
<rect x="678" y="482" width="237" height="186" fill="#141519"/>
<g transform="translate(744.8 626) rotate(-41.76)">
<path d="M0 -7 L70 -8 L210 -11 L210 11 L70 8 L0 7Z" fill="url(#tail2)" filter="url(#b2)"/>
<circle cx="-0.8" cy="0" r="10" fill="url(#head)"/>
<path d="M2 -2.6 L60 -3.2 L205 -5.5 L205 5.5 L60 3.2 L2 2.6Z" fill="url(#tail)" filter="url(#b1)"/>
<path d="M-3 0 C-3 -5.2 4 -5.4 12 -4.4 C22 -3.4 32 -2.6 46 -2.2 L46 2.2 C32 2.6 22 3.4 12 4.4 C4 5.4 -3 5.2 -3 0Z" fill="url(#fan)" filter="url(#b05)"/>
</g>
<g fill="#e8e8f0"><rect x="785.2" y="586.1" width="1.5" height="1.5" fill-opacity="0.84"/><rect x="798.4" y="591.3" width="1.0" height="1.0" fill-opacity="0.25"/><rect x="827.3" y="629.5" width="1.0" height="1.0" fill-opacity="0.20"/><rect x="699.5" y="632.6" width="1.0" height="1.0" fill-opacity="0.13"/><rect x="910.8" y="661.4" width="1.0" height="1.0" fill-opacity="0.28"/><rect x="715.3" y="484.8" width="1.0" height="1.0" fill-opacity="0.14"/><rect x="723.1" y="527.0" width="1.0" height="1.0" fill-opacity="0.24"/><rect x="782.4" y="638.7" width="1.0" height="1.0" fill-opacity="0.29"/><rect x="796.4" y="605.2" width="1.0" height="1.0" fill-opacity="0.19"/><rect x="914.4" y="667.2" width="1.1" height="1.1" fill-opacity="0.61"/><rect x="752.7" y="524.7" width="1.0" height="1.0" fill-opacity="0.14"/><rect x="859.6" y="556.5" width="1.1" height="1.1" fill-opacity="0.52"/><rect x="905.1" y="639.6" width="1.0" height="1.0" fill-opacity="0.17"/><rect x="893.7" y="569.4" width="1.5" height="1.5" fill-opacity="0.82"/><rect x="695.3" y="599.1" width="1.1" height="1.1" fill-opacity="0.48"/><rect x="698.7" y="543.9" width="1.5" height="1.5" fill-opacity="0.93"/><rect x="706.0" y="527.8" width="1.0" height="1.0" fill-opacity="0.14"/><rect x="866.9" y="515.0" width="1.0" height="1.0" fill-opacity="0.24"/><rect x="723.2" y="618.1" width="1.0" height="1.0" fill-opacity="0.29"/><rect x="705.6" y="560.3" width="1.0" height="1.0" fill-opacity="0.19"/><rect x="908.1" y="631.4" width="1.0" height="1.0" fill-opacity="0.35"/><rect x="727.9" y="555.3" width="1.1" height="1.1" fill-opacity="0.59"/><rect x="701.8" y="666.0" width="1.0" height="1.0" fill-opacity="0.19"/><rect x="861.1" y="543.2" width="1.0" height="1.0" fill-opacity="0.14"/><rect x="699.4" y="590.4" width="1.0" height="1.0" fill-opacity="0.28"/><rect x="766.1" y="566.3" width="1.5" height="1.5" fill-opacity="0.85"/><rect x="814.2" y="643.2" width="1.0" height="1.0" fill-opacity="0.16"/><rect x="893.3" y="634.1" width="1.0" height="1.0" fill-opacity="0.17"/><rect x="853.2" y="656.9" width="1.0" height="1.0" fill-opacity="0.37"/><rect x="887.1" y="594.3" width="1.0" height="1.0" fill-opacity="0.15"/><rect x="687.2" y="661.1" width="1.0" height="1.0" fill-opacity="0.30"/><rect x="738.9" y="635.2" width="1.0" height="1.0" fill-opacity="0.20"/><rect x="719.6" y="616.0" width="1.0" height="1.0" fill-opacity="0.18"/><rect x="810.6" y="640.5" width="1.0" height="1.0" fill-opacity="0.19"/><rect x="895.4" y="519.9" width="1.0" height="1.0" fill-opacity="0.19"/><rect x="783.6" y="493.2" width="1.0" height="1.0" fill-opacity="0.22"/><rect x="813.6" y="506.5" width="1.0" height="1.0" fill-opacity="0.35"/><rect x="910.4" y="604.2" width="1.0" height="1.0" fill-opacity="0.27"/><rect x="711.3" y="488.5" width="1.0" height="1.0" fill-opacity="0.36"/><rect x="844.1" y="661.1" width="1.0" height="1.0" fill-opacity="0.29"/><rect x="792.3" y="617.9" width="1.0" height="1.0" fill-opacity="0.38"/><rect x="695.8" y="583.6" width="1.1" height="1.1" fill-opacity="0.67"/><rect x="852.7" y="612.9" width="1.1" height="1.1" fill-opacity="0.67"/><rect x="761.4" y="609.4" width="1.1" height="1.1" fill-opacity="0.66"/><rect x="776.9" y="629.0" width="1.1" height="1.1" fill-opacity="0.57"/><rect x="826.1" y="553.1" width="1.0" height="1.0" fill-opacity="0.28"/><rect x="697.0" y="600.9" width="1.5" height="1.5" fill-opacity="0.96"/><rect x="850.6" y="554.2" width="1.1" height="1.1" fill-opacity="0.57"/><rect x="782.4" y="637.9" width="1.0" height="1.0" fill-opacity="0.32"/><rect x="685.1" y="593.8" width="1.0" height="1.0" fill-opacity="0.18"/><rect x="843.5" y="574.5" width="1.0" height="1.0" fill-opacity="0.36"/><rect x="738.6" y="484.1" width="1.0" height="1.0" fill-opacity="0.30"/><rect x="726.0" y="513.5" width="1.1" height="1.1" fill-opacity="0.60"/><rect x="782.7" y="647.9" width="1.0" height="1.0" fill-opacity="0.29"/><rect x="725.0" y="562.1" width="1.1" height="1.1" fill-opacity="0.67"/><rect x="886.6" y="553.5" width="1.0" height="1.0" fill-opacity="0.20"/><rect x="710.3" y="574.3" width="1.1" height="1.1" fill-opacity="0.65"/><rect x="846.6" y="658.7" width="1.0" height="1.0" fill-opacity="0.16"/><rect x="784.8" y="533.2" width="1.0" height="1.0" fill-opacity="0.23"/><rect x="826.3" y="573.9" width="1.0" height="1.0" fill-opacity="0.34"/><rect x="910.7" y="566.2" width="1.0" height="1.0" fill-opacity="0.13"/><rect x="884.9" y="489.7" width="1.1" height="1.1" fill-opacity="0.57"/><rect x="751.2" y="629.2" width="1.0" height="1.0" fill-opacity="0.16"/><rect x="785.8" y="486.6" width="1.1" height="1.1" fill-opacity="0.47"/><rect x="711.4" y="490.7" width="1.0" height="1.0" fill-opacity="0.24"/><rect x="827.3" y="603.8" width="1.1" height="1.1" fill-opacity="0.69"/><rect x="840.2" y="519.1" width="1.0" height="1.0" fill-opacity="0.17"/><rect x="680.6" y="569.8" width="1.1" height="1.1" fill-opacity="0.45"/><rect x="742.5" y="546.3" width="1.0" height="1.0" fill-opacity="0.26"/><rect x="823.6" y="622.7" width="1.0" height="1.0" fill-opacity="0.33"/><rect x="892.8" y="498.2" width="1.5" height="1.5" fill-opacity="0.92"/><rect x="708.8" y="566.4" width="1.0" height="1.0" fill-opacity="0.36"/><rect x="767.3" y="587.8" width="1.1" height="1.1" fill-opacity="0.64"/><rect x="901.8" y="568.2" width="1.0" height="1.0" fill-opacity="0.17"/><rect x="849.1" y="634.2" width="1.0" height="1.0" fill-opacity="0.31"/><rect x="728.6" y="649.4" width="1.5" height="1.5" fill-opacity="0.99"/><rect x="805.3" y="629.1" width="1.0" height="1.0" fill-opacity="0.36"/><rect x="880.8" y="546.8" width="1.0" height="1.0" fill-opacity="0.23"/><rect x="808.4" y="624.9" width="1.0" height="1.0" fill-opacity="0.13"/><rect x="869.8" y="493.9" width="1.1" height="1.1" fill-opacity="0.45"/><rect x="757.4" y="628.6" width="1.0" height="1.0" fill-opacity="0.16"/><rect x="800.4" y="616.6" width="1.1" height="1.1" fill-opacity="0.61"/><rect x="902.1" y="573.6" width="1.5" height="1.5" fill-opacity="0.73"/><rect x="730.5" y="580.0" width="1.0" height="1.0" fill-opacity="0.31"/><rect x="829.4" y="579.2" width="1.1" height="1.1" fill-opacity="0.57"/><rect x="751.9" y="552.9" width="1.1" height="1.1" fill-opacity="0.67"/><rect x="727.4" y="640.2" width="1.5" height="1.5" fill-opacity="0.86"/><rect x="813.8" y="519.4" width="1.0" height="1.0" fill-opacity="0.25"/><rect x="821.4" y="487.2" width="1.5" height="1.5" fill-opacity="0.85"/><rect x="772.9" y="631.0" width="1.0" height="1.0" fill-opacity="0.25"/><rect x="841.8" y="494.3" width="1.0" height="1.0" fill-opacity="0.23"/><rect x="904.8" y="653.8" width="1.0" height="1.0" fill-opacity="0.24"/><rect x="708.1" y="562.7" width="1.1" height="1.1" fill-opacity="0.67"/><rect x="790.9" y="541.0" width="1.0" height="1.0" fill-opacity="0.28"/><rect x="897.3" y="506.1" width="1.1" height="1.1" fill-opacity="0.41"/><rect x="724.0" y="524.3" width="1.0" height="1.0" fill-opacity="0.20"/><rect x="762.2" y="597.3" width="1.0" height="1.0" fill-opacity="0.31"/><rect x="707.1" y="576.9" width="1.0" height="1.0" fill-opacity="0.17"/><rect x="803.7" y="563.2" width="1.0" height="1.0" fill-opacity="0.23"/><rect x="803.5" y="511.7" width="1.0" height="1.0" fill-opacity="0.28"/><rect x="829.3" y="580.5" width="1.1" height="1.1" fill-opacity="0.58"/><rect x="881.1" y="525.3" width="1.1" height="1.1" fill-opacity="0.64"/><rect x="891.9" y="540.8" width="1.0" height="1.0" fill-opacity="0.36"/><rect x="729.7" y="667.7" width="1.1" height="1.1" fill-opacity="0.44"/><rect x="734.7" y="617.1" width="1.0" height="1.0" fill-opacity="0.15"/><rect x="875.2" y="560.4" width="1.1" height="1.1" fill-opacity="0.44"/><rect x="773.5" y="609.4" width="1.0" height="1.0" fill-opacity="0.17"/><rect x="839.7" y="651.5" width="1.5" height="1.5" fill-opacity="0.73"/><rect x="797.8" y="623.0" width="1.0" height="1.0" fill-opacity="0.30"/><rect x="722.8" y="495.1" width="1.0" height="1.0" fill-opacity="0.13"/><rect x="808.7" y="577.8" width="1.0" height="1.0" fill-opacity="0.16"/><rect x="721.7" y="519.9" width="1.1" height="1.1" fill-opacity="0.70"/><rect x="897.7" y="499.7" width="1.0" height="1.0" fill-opacity="0.37"/><rect x="787.5" y="624.2" width="1.0" height="1.0" fill-opacity="0.24"/><rect x="800.1" y="562.0" width="1.0" height="1.0" fill-opacity="0.12"/><rect x="844.1" y="639.0" width="1.0" height="1.0" fill-opacity="0.24"/><rect x="853.2" y="557.4" width="1.0" height="1.0" fill-opacity="0.16"/><rect x="799.5" y="484.9" width="1.1" height="1.1" fill-opacity="0.64"/><rect x="845.0" y="642.1" width="1.0" height="1.0" fill-opacity="0.23"/><rect x="820.1" y="575.8" width="1.5" height="1.5" fill-opacity="0.94"/><rect x="739.2" y="651.5" width="1.1" height="1.1" fill-opacity="0.63"/><rect x="871.1" y="557.4" width="1.1" height="1.1" fill-opacity="0.66"/><rect x="842.7" y="624.7" width="1.1" height="1.1" fill-opacity="0.52"/><rect x="849.3" y="495.1" width="1.0" height="1.0" fill-opacity="0.24"/><rect x="680.5" y="548.1" width="1.0" height="1.0" fill-opacity="0.28"/><rect x="733.0" y="657.7" width="1.0" height="1.0" fill-opacity="0.21"/><rect x="834.4" y="587.9" width="1.0" height="1.0" fill-opacity="0.22"/><rect x="915.0" y="601.5" width="1.1" height="1.1" fill-opacity="0.63"/><rect x="910.3" y="486.2" width="1.0" height="1.0" fill-opacity="0.31"/><rect x="738.8" y="556.7" width="1.0" height="1.0" fill-opacity="0.17"/><rect x="767.0" y="500.3" width="1.0" height="1.0" fill-opacity="0.36"/><rect x="808.4" y="576.5" width="1.5" height="1.5" fill-opacity="0.87"/><rect x="913.8" y="600.7" width="1.1" height="1.1" fill-opacity="0.42"/><rect x="819.6" y="623.2" width="1.0" height="1.0" fill-opacity="0.36"/><rect x="715.9" y="569.7" width="1.0" height="1.0" fill-opacity="0.25"/><rect x="822.8" y="492.9" width="1.5" height="1.5" fill-opacity="0.83"/><rect x="802.8" y="593.2" width="1.0" height="1.0" fill-opacity="0.19"/><rect x="833.3" y="586.3" width="1.0" height="1.0" fill-opacity="0.31"/><rect x="748.2" y="484.6" width="1.0" height="1.0" fill-opacity="0.13"/><rect x="715.1" y="622.4" width="1.0" height="1.0" fill-opacity="0.35"/><rect x="855.4" y="491.3" width="1.5" height="1.5" fill-opacity="0.98"/><rect x="695.4" y="650.4" width="1.0" height="1.0" fill-opacity="0.24"/><rect x="908.6" y="527.3" width="1.0" height="1.0" fill-opacity="0.36"/><rect x="849.3" y="569.1" width="1.5" height="1.5" fill-opacity="0.95"/><rect x="821.1" y="503.4" width="1.0" height="1.0" fill-opacity="0.24"/><rect x="726.3" y="491.7" width="1.0" height="1.0" fill-opacity="0.15"/><rect x="783.0" y="606.2" width="1.0" height="1.0" fill-opacity="0.19"/><rect x="816.0" y="560.0" width="1.1" height="1.1" fill-opacity="0.56"/><rect x="914.4" y="659.2" width="1.1" height="1.1" fill-opacity="0.47"/><rect x="705.0" y="648.0" width="1.1" height="1.1" fill-opacity="0.59"/><rect x="763.1" y="532.5" width="1.0" height="1.0" fill-opacity="0.27"/><rect x="818.2" y="599.8" width="1.1" height="1.1" fill-opacity="0.46"/><rect x="737.0" y="664.2" width="1.1" height="1.1" fill-opacity="0.66"/><rect x="687.4" y="493.3" width="1.0" height="1.0" fill-opacity="0.23"/><rect x="825.7" y="501.1" width="1.0" height="1.0" fill-opacity="0.14"/><rect x="698.5" y="607.8" width="1.0" height="1.0" fill-opacity="0.28"/><rect x="766.4" y="571.0" width="1.0" height="1.0" fill-opacity="0.21"/><rect x="854.5" y="638.0" width="1.0" height="1.0" fill-opacity="0.15"/><rect x="869.8" y="598.0" width="1.1" height="1.1" fill-opacity="0.46"/><rect x="778.6" y="530.0" width="1.1" height="1.1" fill-opacity="0.51"/><rect x="832.9" y="666.0" width="1.0" height="1.0" fill-opacity="0.26"/><rect x="854.8" y="653.3" width="1.0" height="1.0" fill-opacity="0.22"/><rect x="701.0" y="644.8" width="1.0" height="1.0" fill-opacity="0.14"/><rect x="811.7" y="572.2" width="1.0" height="1.0" fill-opacity="0.20"/><rect x="861.8" y="496.2" width="1.0" height="1.0" fill-opacity="0.29"/><rect x="697.4" y="538.5" width="1.1" height="1.1" fill-opacity="0.61"/><rect x="745.1" y="508.6" width="1.0" height="1.0" fill-opacity="0.31"/><rect x="764.8" y="503.8" width="1.1" height="1.1" fill-opacity="0.57"/><rect x="895.7" y="656.8" width="1.1" height="1.1" fill-opacity="0.53"/><rect x="868.3" y="538.7" width="1.0" height="1.0" fill-opacity="0.22"/><rect x="899.5" y="648.4" width="1.0" height="1.0" fill-opacity="0.21"/><rect x="764.6" y="549.6" width="1.0" height="1.0" fill-opacity="0.22"/><rect x="724.2" y="586.9" width="1.1" height="1.1" fill-opacity="0.56"/><rect x="876.2" y="586.7" width="1.0" height="1.0" fill-opacity="0.32"/><rect x="886.8" y="534.4" width="1.0" height="1.0" fill-opacity="0.25"/><rect x="807.0" y="587.5" width="1.5" height="1.5" fill-opacity="0.90"/><rect x="868.6" y="493.9" width="1.0" height="1.0" fill-opacity="0.32"/><rect x="697.9" y="497.2" width="1.1" height="1.1" fill-opacity="0.67"/><rect x="698.1" y="599.9" width="1.0" height="1.0" fill-opacity="0.31"/><rect x="831.8" y="527.7" width="1.0" height="1.0" fill-opacity="0.32"/><rect x="801.6" y="624.2" width="1.0" height="1.0" fill-opacity="0.21"/><rect x="907.5" y="607.1" width="1.0" height="1.0" fill-opacity="0.26"/><rect x="848.9" y="613.7" width="1.1" height="1.1" fill-opacity="0.52"/><rect x="873.8" y="606.0" width="1.1" height="1.1" fill-opacity="0.64"/><rect x="875.6" y="647.3" width="1.5" height="1.5" fill-opacity="0.89"/><rect x="802.2" y="614.1" width="1.1" height="1.1" fill-opacity="0.53"/><rect x="777.6" y="509.2" width="1.1" height="1.1" fill-opacity="0.70"/><rect x="767.0" y="513.2" width="1.0" height="1.0" fill-opacity="0.23"/><rect x="747.2" y="662.4" width="1.0" height="1.0" fill-opacity="0.20"/><rect x="705.2" y="602.5" width="1.1" height="1.1" fill-opacity="0.45"/><rect x="692.8" y="567.3" width="1.0" height="1.0" fill-opacity="0.36"/><rect x="686.6" y="502.2" width="1.0" height="1.0" fill-opacity="0.18"/><rect x="733.8" y="615.4" width="1.0" height="1.0" fill-opacity="0.18"/><rect x="721.8" y="534.3" width="1.0" height="1.0" fill-opacity="0.32"/><rect x="751.9" y="584.0" width="1.1" height="1.1" fill-opacity="0.54"/><rect x="739.7" y="647.1" width="1.1" height="1.1" fill-opacity="0.50"/><rect x="807.7" y="660.0" width="1.0" height="1.0" fill-opacity="0.18"/><rect x="689.8" y="658.2" width="1.1" height="1.1" fill-opacity="0.52"/><rect x="803.0" y="577.9" width="1.0" height="1.0" fill-opacity="0.38"/><rect x="833.8" y="526.2" width="1.0" height="1.0" fill-opacity="0.24"/><rect x="766.1" y="630.2" width="1.1" height="1.1" fill-opacity="0.58"/><rect x="715.3" y="511.2" width="1.0" height="1.0" fill-opacity="0.19"/><rect x="884.0" y="578.0" width="1.0" height="1.0" fill-opacity="0.38"/><rect x="741.2" y="581.4" width="1.0" height="1.0" fill-opacity="0.32"/><rect x="678.3" y="634.8" width="1.1" height="1.1" fill-opacity="0.65"/><rect x="697.5" y="532.2" width="1.1" height="1.1" fill-opacity="0.43"/><rect x="791.8" y="569.2" width="1.5" height="1.5" fill-opacity="0.88"/><rect x="881.2" y="538.5" width="1.1" height="1.1" fill-opacity="0.53"/><rect x="895.3" y="498.9" width="1.1" height="1.1" fill-opacity="0.46"/><rect x="806.8" y="579.8" width="1.0" height="1.0" fill-opacity="0.34"/><rect x="751.8" y="539.8" width="1.0" height="1.0" fill-opacity="0.20"/><rect x="788.7" y="615.0" width="1.0" height="1.0" fill-opacity="0.30"/><rect x="703.1" y="555.3" width="1.0" height="1.0" fill-opacity="0.37"/><rect x="874.6" y="603.6" width="1.0" height="1.0" fill-opacity="0.22"/><rect x="846.3" y="526.2" width="1.0" height="1.0" fill-opacity="0.24"/><rect x="680.5" y="666.4" width="1.1" height="1.1" fill-opacity="0.46"/><rect x="824.0" y="536.0" width="1.0" height="1.0" fill-opacity="0.26"/><rect x="748.7" y="544.8" width="1.0" height="1.0" fill-opacity="0.29"/><rect x="738.8" y="519.2" width="1.1" height="1.1" fill-opacity="0.50"/><rect x="902.0" y="586.7" width="1.1" height="1.1" fill-opacity="0.50"/><rect x="874.0" y="499.2" width="1.0" height="1.0" fill-opacity="0.14"/><rect x="838.6" y="613.7" width="1.0" height="1.0" fill-opacity="0.22"/><rect x="876.3" y="592.2" width="1.0" height="1.0" fill-opacity="0.18"/><rect x="715.2" y="505.1" width="1.0" height="1.0" fill-opacity="0.14"/><rect x="896.2" y="561.4" width="1.0" height="1.0" fill-opacity="0.29"/><rect x="859.7" y="634.7" width="1.0" height="1.0" fill-opacity="0.21"/><rect x="775.7" y="484.9" width="1.0" height="1.0" fill-opacity="0.30"/><rect x="910.7" y="628.9" width="1.0" height="1.0" fill-opacity="0.28"/><rect x="682.4" y="543.6" width="1.0" height="1.0" fill-opacity="0.29"/><rect x="703.2" y="552.2" width="1.0" height="1.0" fill-opacity="0.33"/><rect x="873.6" y="595.7" width="1.0" height="1.0" fill-opacity="0.32"/><rect x="892.0" y="584.0" width="1.0" height="1.0" fill-opacity="0.25"/><rect x="711.6" y="614.7" width="1.5" height="1.5" fill-opacity="0.85"/><rect x="847.5" y="637.4" width="1.0" height="1.0" fill-opacity="0.37"/><rect x="826.6" y="518.8" width="1.0" height="1.0" fill-opacity="0.18"/><rect x="814.6" y="611.7" width="1.0" height="1.0" fill-opacity="0.36"/><rect x="763.6" y="568.1" width="1.0" height="1.0" fill-opacity="0.37"/><rect x="710.1" y="650.2" width="1.0" height="1.0" fill-opacity="0.27"/><rect x="810.8" y="531.2" width="1.1" height="1.1" fill-opacity="0.70"/><rect x="871.8" y="593.9" width="1.0" height="1.0" fill-opacity="0.33"/><rect x="746.4" y="648.8" width="1.0" height="1.0" fill-opacity="0.27"/><rect x="874.9" y="516.5" width="1.0" height="1.0" fill-opacity="0.14"/><rect x="685.6" y="515.5" width="1.5" height="1.5" fill-opacity="0.98"/><rect x="834.0" y="539.2" width="1.0" height="1.0" fill-opacity="0.31"/><rect x="768.4" y="592.1" width="1.1" height="1.1" fill-opacity="0.40"/><rect x="725.3" y="569.1" width="1.0" height="1.0" fill-opacity="0.22"/><rect x="813.0" y="514.3" width="1.0" height="1.0" fill-opacity="0.19"/><rect x="812.6" y="543.8" width="1.0" height="1.0" fill-opacity="0.13"/><rect x="837.0" y="508.9" width="1.5" height="1.5" fill-opacity="0.88"/><rect x="789.4" y="558.5" width="1.0" height="1.0" fill-opacity="0.30"/><rect x="857.7" y="621.8" width="1.0" height="1.0" fill-opacity="0.38"/><rect x="876.7" y="641.0" width="1.0" height="1.0" fill-opacity="0.23"/><rect x="812.1" y="650.4" width="1.0" height="1.0" fill-opacity="0.26"/><rect x="780.4" y="650.2" width="1.0" height="1.0" fill-opacity="0.13"/><rect x="850.0" y="649.4" width="1.1" height="1.1" fill-opacity="0.58"/><rect x="856.2" y="538.7" width="1.0" height="1.0" fill-opacity="0.14"/><rect x="707.5" y="565.1" width="1.0" height="1.0" fill-opacity="0.22"/><rect x="690.3" y="611.3" width="1.0" height="1.0" fill-opacity="0.18"/><rect x="750.6" y="555.6" width="1.0" height="1.0" fill-opacity="0.14"/><rect x="894.0" y="661.8" width="1.0" height="1.0" fill-opacity="0.35"/><rect x="777.9" y="631.8" width="1.0" height="1.0" fill-opacity="0.31"/><rect x="812.3" y="650.0" width="1.0" height="1.0" fill-opacity="0.33"/><rect x="707.3" y="582.0" width="1.5" height="1.5" fill-opacity="0.70"/><rect x="735.8" y="537.7" width="1.0" height="1.0" fill-opacity="0.14"/><rect x="890.1" y="633.7" width="1.0" height="1.0" fill-opacity="0.21"/><rect x="816.8" y="490.5" width="1.0" height="1.0" fill-opacity="0.35"/><rect x="751.0" y="574.7" width="1.5" height="1.5" fill-opacity="0.99"/><rect x="790.0" y="520.4" width="1.0" height="1.0" fill-opacity="0.36"/><rect x="890.5" y="518.4" width="1.1" height="1.1" fill-opacity="0.51"/><rect x="790.0" y="514.0" width="1.1" height="1.1" fill-opacity="0.70"/><rect x="725.9" y="599.6" width="1.0" height="1.0" fill-opacity="0.35"/><rect x="689.9" y="501.7" width="1.1" height="1.1" fill-opacity="0.49"/><rect x="891.4" y="643.7" width="1.1" height="1.1" fill-opacity="0.44"/><rect x="842.9" y="656.4" width="1.0" height="1.0" fill-opacity="0.14"/><rect x="730.9" y="539.1" width="1.1" height="1.1" fill-opacity="0.46"/><rect x="720.9" y="525.8" width="1.0" height="1.0" fill-opacity="0.33"/><rect x="766.3" y="605.1" width="1.1" height="1.1" fill-opacity="0.58"/><rect x="732.3" y="538.0" width="1.5" height="1.5" fill-opacity="0.90"/><rect x="743.6" y="601.0" width="1.0" height="1.0" fill-opacity="0.38"/><rect x="782.4" y="580.3" width="1.0" height="1.0" fill-opacity="0.13"/><rect x="820.1" y="534.9" width="1.0" height="1.0" fill-opacity="0.33"/><rect x="698.7" y="535.0" width="1.1" height="1.1" fill-opacity="0.47"/><rect x="744.1" y="583.9" width="1.0" height="1.0" fill-opacity="0.35"/><rect x="912.1" y="488.3" width="1.0" height="1.0" fill-opacity="0.32"/><rect x="769.2" y="654.8" width="1.0" height="1.0" fill-opacity="0.17"/><rect x="809.8" y="602.0" width="1.0" height="1.0" fill-opacity="0.29"/><rect x="863.6" y="578.1" width="1.0" height="1.0" fill-opacity="0.34"/><rect x="840.2" y="578.8" width="1.5" height="1.5" fill-opacity="0.75"/><rect x="862.8" y="512.7" width="1.0" height="1.0" fill-opacity="0.18"/><rect x="782.4" y="625.8" width="1.1" height="1.1" fill-opacity="0.64"/><rect x="733.9" y="573.0" width="1.0" height="1.0" fill-opacity="0.27"/><rect x="796.3" y="488.6" width="1.0" height="1.0" fill-opacity="0.31"/><rect x="813.7" y="644.4" width="1.0" height="1.0" fill-opacity="0.16"/><rect x="682.2" y="574.3" width="1.0" height="1.0" fill-opacity="0.23"/><rect x="740.3" y="630.5" width="1.0" height="1.0" fill-opacity="0.36"/><rect x="812.8" y="583.0" width="1.1" height="1.1" fill-opacity="0.47"/><rect x="712.7" y="539.8" width="1.0" height="1.0" fill-opacity="0.20"/><rect x="825.2" y="579.7" width="1.0" height="1.0" fill-opacity="0.27"/><rect x="699.0" y="634.6" width="1.0" height="1.0" fill-opacity="0.19"/><rect x="715.9" y="610.5" width="1.1" height="1.1" fill-opacity="0.64"/><rect x="692.5" y="558.4" width="1.0" height="1.0" fill-opacity="0.18"/><rect x="908.0" y="489.8" width="1.0" height="1.0" fill-opacity="0.32"/><rect x="911.7" y="508.9" width="1.0" height="1.0" fill-opacity="0.31"/><rect x="687.3" y="526.8" width="1.1" height="1.1" fill-opacity="0.44"/><rect x="771.1" y="537.4" width="1.0" height="1.0" fill-opacity="0.14"/><rect x="686.1" y="667.3" width="1.1" height="1.1" fill-opacity="0.62"/><rect x="732.5" y="529.1" width="1.0" height="1.0" fill-opacity="0.18"/><rect x="787.4" y="655.4" width="1.0" height="1.0" fill-opacity="0.21"/><rect x="910.6" y="595.6" width="1.0" height="1.0" fill-opacity="0.22"/><rect x="832.0" y="492.9" width="1.0" height="1.0" fill-opacity="0.30"/><rect x="882.9" y="591.9" width="1.1" height="1.1" fill-opacity="0.54"/><rect x="771.1" y="638.8" width="1.0" height="1.0" fill-opacity="0.32"/><rect x="729.0" y="546.6" width="1.0" height="1.0" fill-opacity="0.26"/><rect x="716.8" y="519.9" width="1.0" height="1.0" fill-opacity="0.24"/><rect x="751.1" y="565.2" width="1.5" height="1.5" fill-opacity="0.90"/><rect x="882.5" y="520.1" width="1.0" height="1.0" fill-opacity="0.14"/><rect x="841.9" y="549.5" width="1.0" height="1.0" fill-opacity="0.12"/><rect x="721.1" y="530.8" width="1.0" height="1.0" fill-opacity="0.36"/><rect x="847.5" y="532.0" width="1.0" height="1.0" fill-opacity="0.16"/><rect x="900.0" y="548.9" width="1.1" height="1.1" fill-opacity="0.62"/><rect x="893.0" y="485.8" width="1.0" height="1.0" fill-opacity="0.22"/><rect x="697.7" y="646.1" width="1.0" height="1.0" fill-opacity="0.32"/><rect x="801.1" y="492.2" width="1.0" height="1.0" fill-opacity="0.18"/><rect x="687.7" y="510.1" width="1.0" height="1.0" fill-opacity="0.13"/><rect x="752.0" y="560.9" width="1.0" height="1.0" fill-opacity="0.16"/><rect x="845.5" y="530.4" width="1.1" height="1.1" fill-opacity="0.60"/><rect x="712.9" y="520.1" width="1.0" height="1.0" fill-opacity="0.31"/><rect x="774.1" y="553.9" width="1.1" height="1.1" fill-opacity="0.47"/><rect x="747.2" y="546.2" width="1.0" height="1.0" fill-opacity="0.13"/><rect x="683.8" y="599.3" width="1.0" height="1.0" fill-opacity="0.33"/><rect x="909.2" y="537.4" width="1.0" height="1.0" fill-opacity="0.36"/><rect x="729.2" y="610.2" width="1.0" height="1.0" fill-opacity="0.37"/><rect x="883.8" y="525.6" width="1.0" height="1.0" fill-opacity="0.14"/><rect x="779.4" y="555.0" width="1.0" height="1.0" fill-opacity="0.22"/><rect x="755.8" y="574.5" width="1.0" height="1.0" fill-opacity="0.16"/><rect x="773.4" y="570.4" width="1.0" height="1.0" fill-opacity="0.29"/><rect x="734.8" y="499.3" width="1.0" height="1.0" fill-opacity="0.23"/><rect x="713.7" y="590.4" width="1.1" height="1.1" fill-opacity="0.57"/><rect x="843.9" y="486.3" width="1.0" height="1.0" fill-opacity="0.21"/><rect x="692.9" y="557.2" width="1.0" height="1.0" fill-opacity="0.25"/><rect x="816.9" y="569.2" width="1.0" height="1.0" fill-opacity="0.19"/><rect x="683.6" y="546.6" width="1.1" height="1.1" fill-opacity="0.57"/><rect x="740.1" y="606.3" width="1.0" height="1.0" fill-opacity="0.24"/><rect x="823.8" y="659.6" width="1.0" height="1.0" fill-opacity="0.27"/><rect x="901.3" y="625.5" width="1.0" height="1.0" fill-opacity="0.28"/><rect x="775.4" y="559.3" width="1.0" height="1.0" fill-opacity="0.34"/><rect x="886.5" y="553.0" width="1.1" height="1.1" fill-opacity="0.41"/><rect x="710.2" y="576.3" width="1.0" height="1.0" fill-opacity="0.21"/><rect x="909.5" y="509.9" width="1.0" height="1.0" fill-opacity="0.18"/><rect x="839.2" y="525.6" width="1.0" height="1.0" fill-opacity="0.26"/><rect x="771.4" y="526.5" width="1.0" height="1.0" fill-opacity="0.29"/><rect x="807.9" y="598.1" width="1.0" height="1.0" fill-opacity="0.34"/><rect x="907.6" y="544.0" width="1.0" height="1.0" fill-opacity="0.35"/><rect x="752.3" y="615.2" width="1.0" height="1.0" fill-opacity="0.30"/><rect x="906.4" y="635.3" width="1.0" height="1.0" fill-opacity="0.28"/><rect x="794.3" y="586.9" width="1.0" height="1.0" fill-opacity="0.19"/><rect x="855.5" y="581.3" width="1.0" height="1.0" fill-opacity="0.18"/><rect x="755.0" y="515.1" width="1.0" height="1.0" fill-opacity="0.15"/><rect x="693.0" y="494.8" width="1.0" height="1.0" fill-opacity="0.30"/><rect x="704.7" y="566.0" width="1.1" height="1.1" fill-opacity="0.54"/><rect x="716.5" y="643.1" width="1.1" height="1.1" fill-opacity="0.42"/><rect x="738.2" y="576.4" width="1.1" height="1.1" fill-opacity="0.52"/><rect x="847.7" y="528.8" width="1.1" height="1.1" fill-opacity="0.50"/><rect x="757.1" y="623.2" width="1.1" height="1.1" fill-opacity="0.65"/><rect x="812.5" y="560.2" width="1.1" height="1.1" fill-opacity="0.59"/><rect x="874.9" y="631.0" width="1.0" height="1.0" fill-opacity="0.22"/><rect x="836.6" y="525.0" width="1.0" height="1.0" fill-opacity="0.12"/><rect x="816.8" y="657.0" width="1.5" height="1.5" fill-opacity="0.74"/><rect x="841.0" y="560.0" width="1.0" height="1.0" fill-opacity="0.22"/><rect x="899.2" y="665.9" width="1.0" height="1.0" fill-opacity="0.31"/><rect x="706.1" y="489.9" width="1.0" height="1.0" fill-opacity="0.31"/><rect x="913.5" y="504.3" width="1.0" height="1.0" fill-opacity="0.13"/><rect x="806.6" y="571.8" width="1.0" height="1.0" fill-opacity="0.20"/><rect x="867.7" y="638.0" width="1.0" height="1.0" fill-opacity="0.22"/><rect x="824.4" y="624.4" width="1.5" height="1.5" fill-opacity="0.82"/><rect x="842.5" y="583.5" width="1.1" height="1.1" fill-opacity="0.44"/><rect x="719.5" y="501.9" width="1.5" height="1.5" fill-opacity="0.78"/><rect x="793.7" y="504.4" width="1.0" height="1.0" fill-opacity="0.13"/><rect x="812.1" y="508.7" width="1.0" height="1.0" fill-opacity="0.19"/><rect x="731.9" y="571.7" width="1.0" height="1.0" fill-opacity="0.19"/><rect x="690.1" y="494.0" width="1.1" height="1.1" fill-opacity="0.49"/><rect x="696.6" y="515.9" width="1.0" height="1.0" fill-opacity="0.38"/><rect x="725.9" y="643.3" width="1.0" height="1.0" fill-opacity="0.23"/><rect x="869.3" y="555.6" width="1.0" height="1.0" fill-opacity="0.26"/><rect x="833.7" y="597.9" width="1.0" height="1.0" fill-opacity="0.36"/><rect x="882.9" y="666.9" width="1.0" height="1.0" fill-opacity="0.34"/><rect x="849.8" y="514.7" width="1.0" height="1.0" fill-opacity="0.16"/><rect x="706.1" y="495.9" width="1.0" height="1.0" fill-opacity="0.32"/><rect x="751.5" y="577.6" width="1.0" height="1.0" fill-opacity="0.17"/><rect x="905.3" y="484.1" width="1.0" height="1.0" fill-opacity="0.33"/><rect x="865.8" y="618.8" width="1.0" height="1.0" fill-opacity="0.33"/><rect x="874.2" y="624.8" width="1.5" height="1.5" fill-opacity="0.73"/><rect x="903.2" y="556.8" width="1.1" height="1.1" fill-opacity="0.48"/><rect x="893.6" y="486.4" width="1.0" height="1.0" fill-opacity="0.18"/><rect x="770.1" y="550.7" width="1.0" height="1.0" fill-opacity="0.33"/><rect x="764.4" y="600.7" width="1.0" height="1.0" fill-opacity="0.19"/><rect x="892.5" y="541.8" width="1.0" height="1.0" fill-opacity="0.21"/><rect x="853.8" y="521.3" width="1.1" height="1.1" fill-opacity="0.56"/><rect x="839.2" y="515.0" width="1.0" height="1.0" fill-opacity="0.16"/><rect x="761.0" y="562.1" width="1.0" height="1.0" fill-opacity="0.25"/><rect x="773.6" y="541.8" width="1.0" height="1.0" fill-opacity="0.37"/><rect x="726.5" y="645.8" width="1.0" height="1.0" fill-opacity="0.32"/><rect x="703.7" y="665.7" width="1.0" height="1.0" fill-opacity="0.37"/><rect x="730.1" y="557.9" width="1.1" height="1.1" fill-opacity="0.45"/><rect x="742.8" y="608.0" width="1.5" height="1.5" fill-opacity="0.80"/><rect x="721.5" y="548.4" width="1.5" height="1.5" fill-opacity="0.74"/><rect x="828.4" y="552.3" width="1.0" height="1.0" fill-opacity="0.18"/><rect x="824.1" y="647.1" width="1.1" height="1.1" fill-opacity="0.59"/><rect x="797.6" y="587.6" width="1.0" height="1.0" fill-opacity="0.34"/><rect x="841.5" y="566.3" width="1.0" height="1.0" fill-opacity="0.23"/><rect x="769.2" y="524.8" width="1.0" height="1.0" fill-opacity="0.27"/><rect x="800.1" y="488.0" width="1.0" height="1.0" fill-opacity="0.24"/><rect x="818.6" y="592.6" width="1.5" height="1.5" fill-opacity="0.75"/><rect x="789.1" y="666.7" width="1.1" height="1.1" fill-opacity="0.49"/><rect x="852.6" y="666.0" width="1.0" height="1.0" fill-opacity="0.35"/><rect x="708.0" y="666.2" width="1.0" height="1.0" fill-opacity="0.18"/><rect x="877.1" y="602.8" width="1.5" height="1.5" fill-opacity="0.95"/><rect x="867.0" y="577.2" width="1.5" height="1.5" fill-opacity="0.72"/><rect x="884.2" y="614.4" width="1.0" height="1.0" fill-opacity="0.33"/><rect x="785.6" y="581.8" width="1.1" height="1.1" fill-opacity="0.46"/><rect x="744.3" y="601.7" width="1.0" height="1.0" fill-opacity="0.26"/><rect x="864.5" y="573.3" width="1.0" height="1.0" fill-opacity="0.33"/><rect x="880.6" y="625.4" width="1.0" height="1.0" fill-opacity="0.36"/><rect x="866.8" y="510.2" width="1.0" height="1.0" fill-opacity="0.15"/><rect x="686.7" y="546.3" width="1.1" height="1.1" fill-opacity="0.65"/><rect x="705.8" y="515.8" width="1.0" height="1.0" fill-opacity="0.34"/><rect x="824.2" y="649.7" width="1.0" height="1.0" fill-opacity="0.38"/><rect x="727.0" y="599.0" width="1.1" height="1.1" fill-opacity="0.62"/><rect x="724.7" y="606.3" width="1.0" height="1.0" fill-opacity="0.12"/><rect x="758.5" y="540.7" width="1.0" height="1.0" fill-opacity="0.19"/><rect x="820.9" y="611.2" width="1.0" height="1.0" fill-opacity="0.15"/><rect x="842.4" y="568.8" width="1.0" height="1.0" fill-opacity="0.15"/><rect x="901.0" y="595.5" width="1.0" height="1.0" fill-opacity="0.17"/><rect x="913.8" y="610.6" width="1.1" height="1.1" fill-opacity="0.51"/><rect x="751.5" y="557.9" width="1.0" height="1.0" fill-opacity="0.28"/><rect x="778.7" y="634.5" width="1.0" height="1.0" fill-opacity="0.24"/><rect x="798.0" y="657.1" width="1.0" height="1.0" fill-opacity="0.30"/><rect x="733.7" y="589.7" width="1.0" height="1.0" fill-opacity="0.35"/><rect x="745.9" y="640.9" width="1.0" height="1.0" fill-opacity="0.24"/><rect x="899.3" y="554.1" width="1.1" height="1.1" fill-opacity="0.58"/><rect x="784.3" y="493.9" width="1.0" height="1.0" fill-opacity="0.19"/><rect x="782.5" y="659.5" width="1.0" height="1.0" fill-opacity="0.30"/><rect x="837.3" y="527.5" width="1.0" height="1.0" fill-opacity="0.15"/><rect x="890.2" y="528.8" width="1.0" height="1.0" fill-opacity="0.21"/><rect x="872.5" y="640.2" width="1.0" height="1.0" fill-opacity="0.26"/><rect x="701.6" y="648.8" width="1.0" height="1.0" fill-opacity="0.21"/><rect x="766.8" y="616.5" width="1.0" height="1.0" fill-opacity="0.21"/><rect x="890.8" y="658.6" width="1.0" height="1.0" fill-opacity="0.28"/><rect x="789.2" y="549.3" width="1.0" height="1.0" fill-opacity="0.20"/><rect x="837.0" y="594.6" width="1.5" height="1.5" fill-opacity="0.99"/><rect x="913.2" y="555.5" width="1.1" height="1.1" fill-opacity="0.59"/><rect x="844.1" y="667.6" width="1.0" height="1.0" fill-opacity="0.24"/><rect x="773.1" y="604.0" width="1.0" height="1.0" fill-opacity="0.38"/><rect x="727.6" y="550.8" width="1.0" height="1.0" fill-opacity="0.22"/><rect x="853.8" y="497.5" width="1.0" height="1.0" fill-opacity="0.29"/><rect x="825.7" y="620.0" width="1.0" height="1.0" fill-opacity="0.33"/><rect x="851.2" y="626.3" width="1.0" height="1.0" fill-opacity="0.24"/><rect x="681.7" y="641.9" width="1.5" height="1.5" fill-opacity="0.97"/><rect x="683.7" y="547.3" width="1.0" height="1.0" fill-opacity="0.26"/><rect x="704.4" y="628.8" width="1.0" height="1.0" fill-opacity="0.25"/><rect x="707.5" y="587.6" width="1.0" height="1.0" fill-opacity="0.14"/><rect x="799.4" y="536.7" width="1.1" height="1.1" fill-opacity="0.47"/><rect x="776.1" y="492.1" width="1.0" height="1.0" fill-opacity="0.24"/><rect x="810.3" y="567.4" width="1.1" height="1.1" fill-opacity="0.43"/><rect x="879.5" y="510.8" width="1.5" height="1.5" fill-opacity="0.86"/><rect x="774.3" y="595.9" width="1.1" height="1.1" fill-opacity="0.69"/><rect x="776.0" y="484.0" width="1.0" height="1.0" fill-opacity="0.33"/><rect x="852.1" y="614.5" width="1.0" height="1.0" fill-opacity="0.26"/><rect x="684.8" y="502.5" width="1.0" height="1.0" fill-opacity="0.37"/><rect x="830.4" y="639.7" width="1.0" height="1.0" fill-opacity="0.23"/><rect x="696.6" y="530.5" width="1.0" height="1.0" fill-opacity="0.36"/><rect x="755.9" y="573.0" width="1.0" height="1.0" fill-opacity="0.35"/><rect x="902.3" y="587.6" width="1.0" height="1.0" fill-opacity="0.36"/><rect x="771.5" y="537.7" width="1.1" height="1.1" fill-opacity="0.48"/><rect x="765.2" y="561.8" width="1.0" height="1.0" fill-opacity="0.21"/><rect x="780.0" y="565.9" width="1.0" height="1.0" fill-opacity="0.34"/><rect x="692.6" y="580.2" width="1.0" height="1.0" fill-opacity="0.22"/><rect x="730.8" y="500.4" width="1.0" height="1.0" fill-opacity="0.20"/><rect x="792.7" y="524.8" width="1.1" height="1.1" fill-opacity="0.55"/><rect x="680.1" y="557.6" width="1.5" height="1.5" fill-opacity="0.70"/><rect x="818.6" y="660.7" width="1.0" height="1.0" fill-opacity="0.28"/><rect x="765.4" y="538.0" width="1.0" height="1.0" fill-opacity="0.27"/><rect x="752.7" y="574.6" width="1.0" height="1.0" fill-opacity="0.32"/><rect x="690.6" y="499.3" width="1.0" height="1.0" fill-opacity="0.19"/><rect x="866.6" y="561.1" width="1.1" height="1.1" fill-opacity="0.52"/><rect x="745.7" y="608.5" width="1.0" height="1.0" fill-opacity="0.38"/><rect x="875.1" y="543.0" width="1.0" height="1.0" fill-opacity="0.33"/><rect x="864.8" y="601.5" width="1.0" height="1.0" fill-opacity="0.32"/><rect x="689.4" y="598.2" width="1.0" height="1.0" fill-opacity="0.36"/><rect x="829.4" y="486.2" width="1.5" height="1.5" fill-opacity="0.93"/><rect x="815.4" y="483.0" width="1.1" height="1.1" fill-opacity="0.53"/><rect x="839.1" y="665.0" width="1.1" height="1.1" fill-opacity="0.42"/><rect x="863.2" y="563.9" width="1.1" height="1.1" fill-opacity="0.51"/><rect x="784.1" y="563.3" width="1.0" height="1.0" fill-opacity="0.20"/><rect x="852.1" y="495.3" width="1.0" height="1.0" fill-opacity="0.34"/><rect x="835.9" y="583.9" width="1.0" height="1.0" fill-opacity="0.15"/><rect x="751.5" y="659.4" width="1.0" height="1.0" fill-opacity="0.36"/><rect x="728.0" y="559.2" width="1.0" height="1.0" fill-opacity="0.34"/><rect x="707.2" y="644.5" width="1.0" height="1.0" fill-opacity="0.13"/><rect x="780.4" y="552.2" width="1.0" height="1.0" fill-opacity="0.36"/><rect x="795.0" y="610.3" width="1.0" height="1.0" fill-opacity="0.32"/><rect x="702.9" y="620.1" width="1.0" height="1.0" fill-opacity="0.27"/><rect x="725.9" y="546.4" width="1.0" height="1.0" fill-opacity="0.21"/><rect x="818.2" y="578.7" width="1.0" height="1.0" fill-opacity="0.27"/><rect x="877.6" y="548.6" width="1.0" height="1.0" fill-opacity="0.24"/><rect x="910.4" y="543.0" width="1.0" height="1.0" fill-opacity="0.18"/><rect x="739.9" y="617.9" width="1.0" height="1.0" fill-opacity="0.19"/><rect x="693.2" y="635.4" width="1.0" height="1.0" fill-opacity="0.31"/><rect x="780.6" y="596.9" width="1.0" height="1.0" fill-opacity="0.37"/><rect x="893.6" y="566.8" width="1.0" height="1.0" fill-opacity="0.18"/><rect x="856.5" y="501.0" width="1.0" height="1.0" fill-opacity="0.34"/><rect x="686.3" y="611.9" width="1.0" height="1.0" fill-opacity="0.26"/><rect x="756.9" y="510.2" width="1.5" height="1.5" fill-opacity="0.93"/><rect x="869.0" y="500.2" width="1.1" height="1.1" fill-opacity="0.47"/><rect x="725.2" y="581.5" width="1.0" height="1.0" fill-opacity="0.15"/><rect x="859.3" y="590.3" width="1.1" height="1.1" fill-opacity="0.68"/><rect x="841.4" y="549.7" width="1.5" height="1.5" fill-opacity="0.92"/><rect x="746.9" y="641.5" width="1.1" height="1.1" fill-opacity="0.48"/><rect x="737.1" y="485.8" width="1.0" height="1.0" fill-opacity="0.19"/><rect x="747.4" y="529.0" width="1.0" height="1.0" fill-opacity="0.25"/><rect x="742.6" y="535.0" width="1.0" height="1.0" fill-opacity="0.25"/><rect x="885.1" y="511.8" width="1.1" height="1.1" fill-opacity="0.66"/><rect x="822.4" y="583.1" width="1.1" height="1.1" fill-opacity="0.56"/><rect x="834.4" y="653.0" width="1.1" height="1.1" fill-opacity="0.48"/><rect x="690.9" y="656.2" width="1.0" height="1.0" fill-opacity="0.32"/><rect x="733.3" y="566.2" width="1.0" height="1.0" fill-opacity="0.31"/><rect x="901.6" y="576.1" width="1.0" height="1.0" fill-opacity="0.21"/><rect x="733.0" y="658.7" width="1.0" height="1.0" fill-opacity="0.36"/><rect x="833.7" y="495.4" width="1.1" height="1.1" fill-opacity="0.43"/><rect x="812.0" y="504.3" width="1.5" height="1.5" fill-opacity="0.79"/><rect x="884.7" y="493.4" width="1.0" height="1.0" fill-opacity="0.14"/><rect x="685.0" y="588.2" width="1.5" height="1.5" fill-opacity="0.91"/><rect x="880.7" y="628.0" width="1.0" height="1.0" fill-opacity="0.14"/><rect x="802.9" y="516.3" width="1.0" height="1.0" fill-opacity="0.21"/><rect x="796.3" y="518.7" width="1.1" height="1.1" fill-opacity="0.53"/><rect x="793.2" y="496.6" width="1.0" height="1.0" fill-opacity="0.26"/><rect x="908.5" y="586.4" width="1.0" height="1.0" fill-opacity="0.20"/><rect x="757.5" y="612.6" width="1.5" height="1.5" fill-opacity="0.99"/><rect x="903.1" y="654.1" width="1.1" height="1.1" fill-opacity="0.68"/><rect x="682.8" y="573.1" width="1.0" height="1.0" fill-opacity="0.30"/><rect x="823.2" y="596.0" width="1.5" height="1.5" fill-opacity="0.73"/><rect x="801.1" y="660.5" width="1.0" height="1.0" fill-opacity="0.15"/><rect x="884.0" y="660.0" width="1.0" height="1.0" fill-opacity="0.13"/><rect x="874.6" y="610.1" width="1.0" height="1.0" fill-opacity="0.27"/><rect x="857.5" y="632.3" width="1.0" height="1.0" fill-opacity="0.14"/><rect x="866.2" y="663.4" width="1.1" height="1.1" fill-opacity="0.52"/><rect x="757.5" y="546.5" width="1.0" height="1.0" fill-opacity="0.32"/><rect x="740.2" y="590.9" width="1.0" height="1.0" fill-opacity="0.21"/><rect x="838.0" y="566.6" width="1.0" height="1.0" fill-opacity="0.35"/><rect x="719.6" y="509.9" width="1.0" height="1.0" fill-opacity="0.24"/><rect x="863.7" y="543.9" width="1.0" height="1.0" fill-opacity="0.29"/><rect x="739.7" y="579.2" width="1.0" height="1.0" fill-opacity="0.35"/><rect x="721.7" y="525.2" width="1.0" height="1.0" fill-opacity="0.21"/><rect x="850.2" y="607.4" width="1.1" height="1.1" fill-opacity="0.56"/><rect x="696.6" y="624.0" width="1.0" height="1.0" fill-opacity="0.18"/><rect x="776.2" y="666.1" width="1.0" height="1.0" fill-opacity="0.21"/><rect x="893.9" y="666.2" width="1.0" height="1.0" fill-opacity="0.16"/><rect x="865.1" y="627.5" width="1.0" height="1.0" fill-opacity="0.33"/><rect x="767.9" y="535.4" width="1.0" height="1.0" fill-opacity="0.31"/><rect x="790.8" y="634.2" width="1.0" height="1.0" fill-opacity="0.25"/><rect x="768.2" y="494.1" width="1.1" height="1.1" fill-opacity="0.44"/><rect x="726.7" y="645.3" width="1.5" height="1.5" fill-opacity="0.98"/><rect x="759.0" y="655.1" width="1.0" height="1.0" fill-opacity="0.31"/><rect x="902.1" y="517.8" width="1.0" height="1.0" fill-opacity="0.30"/><rect x="887.2" y="617.1" width="1.5" height="1.5" fill-opacity="0.84"/><rect x="766.2" y="504.3" width="1.0" height="1.0" fill-opacity="0.36"/><rect x="695.0" y="516.4" width="1.0" height="1.0" fill-opacity="0.13"/><rect x="750.7" y="516.0" width="1.0" height="1.0" fill-opacity="0.26"/><rect x="806.1" y="587.6" width="1.1" height="1.1" fill-opacity="0.56"/><rect x="902.5" y="497.2" width="1.0" height="1.0" fill-opacity="0.14"/><rect x="751.3" y="623.5" width="1.5" height="1.5" fill-opacity="0.85"/><rect x="716.0" y="543.5" width="1.0" height="1.0" fill-opacity="0.20"/><rect x="865.9" y="662.9" width="1.0" height="1.0" fill-opacity="0.28"/><rect x="878.5" y="568.5" width="1.0" height="1.0" fill-opacity="0.37"/><rect x="909.8" y="486.5" width="1.1" height="1.1" fill-opacity="0.52"/><rect x="690.3" y="512.3" width="1.0" height="1.0" fill-opacity="0.31"/><rect x="728.1" y="485.6" width="1.0" height="1.0" fill-opacity="0.33"/><rect x="796.3" y="603.4" width="1.0" height="1.0" fill-opacity="0.17"/><rect x="681.6" y="538.6" width="1.0" height="1.0" fill-opacity="0.19"/><rect x="824.6" y="550.7" width="1.0" height="1.0" fill-opacity="0.28"/><rect x="753.2" y="548.3" width="1.1" height="1.1" fill-opacity="0.57"/><rect x="776.8" y="582.5" width="1.0" height="1.0" fill-opacity="0.21"/><rect x="894.5" y="525.4" width="1.5" height="1.5" fill-opacity="0.96"/><rect x="887.0" y="512.2" width="1.0" height="1.0" fill-opacity="0.38"/><rect x="746.4" y="513.8" width="1.1" height="1.1" fill-opacity="0.47"/><rect x="816.3" y="511.3" width="1.5" height="1.5" fill-opacity="0.79"/><rect x="701.0" y="609.8" width="1.0" height="1.0" fill-opacity="0.27"/><rect x="795.8" y="653.6" width="1.0" height="1.0" fill-opacity="0.22"/><rect x="678.4" y="574.3" width="1.0" height="1.0" fill-opacity="0.27"/><rect x="827.8" y="568.0" width="1.0" height="1.0" fill-opacity="0.25"/><rect x="792.2" y="601.3" width="1.5" height="1.5" fill-opacity="0.78"/><rect x="782.9" y="497.7" width="1.1" height="1.1" fill-opacity="0.47"/><rect x="874.5" y="630.4" width="1.0" height="1.0" fill-opacity="0.35"/><rect x="797.4" y="561.3" width="1.0" height="1.0" fill-opacity="0.37"/><rect x="794.1" y="571.7" width="1.0" height="1.0" fill-opacity="0.34"/><rect x="797.2" y="545.7" width="1.0" height="1.0" fill-opacity="0.18"/><rect x="875.7" y="631.4" width="1.5" height="1.5" fill-opacity="0.98"/><rect x="840.4" y="630.3" width="1.1" height="1.1" fill-opacity="0.64"/><rect x="867.9" y="514.8" width="1.1" height="1.1" fill-opacity="0.49"/><rect x="735.8" y="653.0" width="1.0" height="1.0" fill-opacity="0.25"/><rect x="759.3" y="629.3" width="1.0" height="1.0" fill-opacity="0.36"/><rect x="899.0" y="601.8" width="1.0" height="1.0" fill-opacity="0.29"/><rect x="703.9" y="664.7" width="1.1" height="1.1" fill-opacity="0.49"/><rect x="722.1" y="611.1" width="1.1" height="1.1" fill-opacity="0.70"/><rect x="825.6" y="505.3" width="1.1" height="1.1" fill-opacity="0.42"/><rect x="883.7" y="625.0" width="1.1" height="1.1" fill-opacity="0.66"/><rect x="812.9" y="657.5" width="1.0" height="1.0" fill-opacity="0.25"/><rect x="769.1" y="547.7" width="1.0" height="1.0" fill-opacity="0.16"/><rect x="866.6" y="524.5" width="1.0" height="1.0" fill-opacity="0.32"/><rect x="842.6" y="577.9" width="1.0" height="1.0" fill-opacity="0.19"/><rect x="722.4" y="602.5" width="1.0" height="1.0" fill-opacity="0.36"/><rect x="756.3" y="654.4" width="1.1" height="1.1" fill-opacity="0.49"/><rect x="903.6" y="597.2" width="1.5" height="1.5" fill-opacity="0.93"/><rect x="757.0" y="533.9" width="1.0" height="1.0" fill-opacity="0.25"/><rect x="686.4" y="642.4" width="1.0" height="1.0" fill-opacity="0.24"/><rect x="854.5" y="528.5" width="1.0" height="1.0" fill-opacity="0.27"/><rect x="735.2" y="542.9" width="1.0" height="1.0" fill-opacity="0.13"/><rect x="762.2" y="580.0" width="1.5" height="1.5" fill-opacity="0.89"/><rect x="776.2" y="557.7" width="1.0" height="1.0" fill-opacity="0.24"/><rect x="905.3" y="504.7" width="1.0" height="1.0" fill-opacity="0.30"/><rect x="858.7" y="585.2" width="1.0" height="1.0" fill-opacity="0.36"/><rect x="891.9" y="528.7" width="1.0" height="1.0" fill-opacity="0.38"/><rect x="803.1" y="517.2" width="1.1" height="1.1" fill-opacity="0.42"/><rect x="713.6" y="584.5" width="1.0" height="1.0" fill-opacity="0.31"/><rect x="850.2" y="541.4" width="1.1" height="1.1" fill-opacity="0.59"/><rect x="845.3" y="566.9" width="1.0" height="1.0" fill-opacity="0.15"/><rect x="790.5" y="659.6" width="1.1" height="1.1" fill-opacity="0.42"/><rect x="694.8" y="532.1" width="1.0" height="1.0" fill-opacity="0.23"/><rect x="708.3" y="561.2" width="1.0" height="1.0" fill-opacity="0.31"/><rect x="773.5" y="602.8" width="1.0" height="1.0" fill-opacity="0.28"/><rect x="689.0" y="614.2" width="1.0" height="1.0" fill-opacity="0.13"/><rect x="790.3" y="485.1" width="1.0" height="1.0" fill-opacity="0.22"/><rect x="789.0" y="501.6" width="1.5" height="1.5" fill-opacity="0.96"/><rect x="793.3" y="591.3" width="1.0" height="1.0" fill-opacity="0.38"/><rect x="706.4" y="538.6" width="1.0" height="1.0" fill-opacity="0.35"/><rect x="798.6" y="558.3" width="1.0" height="1.0" fill-opacity="0.35"/><rect x="739.0" y="629.2" width="1.1" height="1.1" fill-opacity="0.53"/><rect x="764.7" y="563.3" width="1.0" height="1.0" fill-opacity="0.20"/><rect x="825.8" y="558.5" width="1.0" height="1.0" fill-opacity="0.32"/><rect x="785.9" y="570.1" width="1.1" height="1.1" fill-opacity="0.54"/><rect x="767.1" y="649.0" width="1.5" height="1.5" fill-opacity="0.94"/><rect x="773.1" y="606.8" width="1.1" height="1.1" fill-opacity="0.49"/><rect x="849.6" y="658.7" width="1.0" height="1.0" fill-opacity="0.29"/><rect x="781.1" y="603.5" width="1.0" height="1.0" fill-opacity="0.32"/><rect x="805.8" y="664.3" width="1.0" height="1.0" fill-opacity="0.31"/><rect x="682.0" y="559.4" width="1.1" height="1.1" fill-opacity="0.48"/><rect x="823.4" y="523.1" width="1.0" height="1.0" fill-opacity="0.38"/><rect x="724.6" y="651.8" width="1.0" height="1.0" fill-opacity="0.27"/><rect x="872.6" y="637.7" width="1.0" height="1.0" fill-opacity="0.27"/><rect x="846.8" y="623.7" width="1.1" height="1.1" fill-opacity="0.57"/><rect x="737.6" y="613.2" width="1.0" height="1.0" fill-opacity="0.26"/><rect x="911.9" y="507.4" width="1.1" height="1.1" fill-opacity="0.50"/><rect x="850.2" y="658.8" width="1.0" height="1.0" fill-opacity="0.27"/><rect x="803.2" y="574.1" width="1.0" height="1.0" fill-opacity="0.28"/><rect x="889.8" y="605.4" width="1.0" height="1.0" fill-opacity="0.33"/><rect x="777.5" y="509.0" width="1.0" height="1.0" fill-opacity="0.24"/><rect x="803.6" y="666.4" width="1.0" height="1.0" fill-opacity="0.37"/><rect x="761.6" y="623.2" width="1.0" height="1.0" fill-opacity="0.20"/><rect x="842.0" y="610.4" width="1.1" height="1.1" fill-opacity="0.51"/><rect x="742.9" y="548.7" width="1.0" height="1.0" fill-opacity="0.13"/><rect x="766.8" y="604.2" width="1.0" height="1.0" fill-opacity="0.20"/><rect x="884.8" y="655.6" width="1.0" height="1.0" fill-opacity="0.17"/><rect x="705.9" y="497.9" width="1.1" height="1.1" fill-opacity="0.62"/><rect x="740.7" y="573.0" width="1.0" height="1.0" fill-opacity="0.13"/><rect x="872.1" y="641.9" width="1.0" height="1.0" fill-opacity="0.30"/><rect x="843.7" y="544.7" width="1.1" height="1.1" fill-opacity="0.47"/><rect x="790.3" y="540.4" width="1.0" height="1.0" fill-opacity="0.33"/><rect x="813.1" y="595.3" width="1.5" height="1.5" fill-opacity="0.77"/><rect x="730.8" y="597.3" width="1.0" height="1.0" fill-opacity="0.37"/><rect x="758.9" y="563.8" width="1.0" height="1.0" fill-opacity="0.34"/><rect x="894.9" y="607.9" width="1.0" height="1.0" fill-opacity="0.21"/><rect x="845.4" y="522.2" width="1.1" height="1.1" fill-opacity="0.66"/><rect x="731.7" y="549.8" width="1.0" height="1.0" fill-opacity="0.31"/><rect x="689.2" y="611.4" width="1.0" height="1.0" fill-opacity="0.34"/><rect x="806.7" y="590.5" width="1.0" height="1.0" fill-opacity="0.13"/><rect x="761.7" y="665.2" width="1.0" height="1.0" fill-opacity="0.34"/><rect x="692.8" y="500.9" width="1.0" height="1.0" fill-opacity="0.30"/><rect x="719.8" y="532.7" width="1.0" height="1.0" fill-opacity="0.30"/><rect x="754.4" y="568.9" width="1.0" height="1.0" fill-opacity="0.27"/><rect x="762.3" y="549.0" width="1.0" height="1.0" fill-opacity="0.20"/><rect x="739.8" y="485.0" width="1.0" height="1.0" fill-opacity="0.27"/><rect x="741.7" y="503.0" width="1.1" height="1.1" fill-opacity="0.54"/><rect x="799.3" y="540.0" width="1.1" height="1.1" fill-opacity="0.63"/><rect x="825.6" y="604.7" width="1.0" height="1.0" fill-opacity="0.25"/><rect x="775.9" y="554.5" width="1.0" height="1.0" fill-opacity="0.24"/><rect x="803.4" y="581.1" width="1.1" height="1.1" fill-opacity="0.67"/><rect x="731.1" y="486.1" width="1.0" height="1.0" fill-opacity="0.13"/><rect x="866.7" y="597.4" width="1.0" height="1.0" fill-opacity="0.17"/><rect x="883.9" y="637.5" width="1.0" height="1.0" fill-opacity="0.30"/><rect x="854.5" y="566.6" width="1.0" height="1.0" fill-opacity="0.26"/><rect x="886.7" y="666.4" width="1.1" height="1.1" fill-opacity="0.65"/><rect x="695.6" y="527.9" width="1.5" height="1.5" fill-opacity="0.86"/><rect x="800.0" y="539.6" width="1.1" height="1.1" fill-opacity="0.56"/><rect x="912.7" y="496.1" width="1.5" height="1.5" fill-opacity="0.70"/><rect x="713.1" y="554.4" width="1.0" height="1.0" fill-opacity="0.15"/><rect x="811.3" y="656.7" width="1.0" height="1.0" fill-opacity="0.32"/><rect x="818.3" y="590.3" width="1.0" height="1.0" fill-opacity="0.24"/><rect x="891.4" y="607.4" width="1.0" height="1.0" fill-opacity="0.24"/><rect x="806.8" y="544.6" width="1.0" height="1.0" fill-opacity="0.28"/><rect x="682.2" y="522.9" width="1.0" height="1.0" fill-opacity="0.18"/><rect x="695.2" y="623.7" width="1.0" height="1.0" fill-opacity="0.37"/><rect x="810.4" y="500.8" width="1.0" height="1.0" fill-opacity="0.19"/><rect x="871.0" y="616.7" width="1.1" height="1.1" fill-opacity="0.42"/><rect x="686.1" y="630.4" width="1.0" height="1.0" fill-opacity="0.17"/><rect x="685.1" y="512.4" width="1.0" height="1.0" fill-opacity="0.37"/><rect x="754.1" y="530.2" width="1.1" height="1.1" fill-opacity="0.46"/><rect x="828.5" y="596.4" width="1.5" height="1.5" fill-opacity="0.71"/><rect x="811.5" y="553.2" width="1.1" height="1.1" fill-opacity="0.48"/><rect x="847.5" y="516.5" width="1.0" height="1.0" fill-opacity="0.37"/><rect x="734.9" y="533.9" width="1.1" height="1.1" fill-opacity="0.60"/><rect x="693.6" y="516.7" width="1.0" height="1.0" fill-opacity="0.20"/><rect x="878.2" y="612.3" width="1.5" height="1.5" fill-opacity="0.90"/><rect x="826.8" y="553.3" width="1.1" height="1.1" fill-opacity="0.55"/><rect x="692.0" y="573.5" width="1.0" height="1.0" fill-opacity="0.26"/><rect x="689.6" y="487.2" width="1.5" height="1.5" fill-opacity="0.81"/><rect x="756.2" y="509.6" width="1.0" height="1.0" fill-opacity="0.36"/><rect x="720.7" y="575.0" width="1.0" height="1.0" fill-opacity="0.32"/><rect x="811.9" y="526.4" width="1.0" height="1.0" fill-opacity="0.31"/><rect x="696.5" y="642.8" width="1.0" height="1.0" fill-opacity="0.17"/><rect x="788.9" y="639.0" width="1.0" height="1.0" fill-opacity="0.31"/><rect x="858.4" y="616.4" width="1.0" height="1.0" fill-opacity="0.33"/><rect x="713.0" y="512.2" width="1.0" height="1.0" fill-opacity="0.13"/><rect x="885.8" y="552.9" width="1.0" height="1.0" fill-opacity="0.13"/><rect x="878.6" y="593.9" width="1.1" height="1.1" fill-opacity="0.41"/><rect x="704.7" y="535.3" width="1.0" height="1.0" fill-opacity="0.15"/><rect x="725.5" y="601.1" width="1.0" height="1.0" fill-opacity="0.16"/><rect x="804.9" y="551.8" width="1.0" height="1.0" fill-opacity="0.27"/><rect x="798.4" y="554.2" width="1.0" height="1.0" fill-opacity="0.13"/><rect x="823.8" y="518.0" width="1.0" height="1.0" fill-opacity="0.12"/><rect x="888.4" y="591.3" width="1.0" height="1.0" fill-opacity="0.26"/><rect x="900.8" y="506.6" width="1.0" height="1.0" fill-opacity="0.30"/><rect x="766.2" y="613.5" width="1.1" height="1.1" fill-opacity="0.41"/><rect x="745.4" y="536.5" width="1.1" height="1.1" fill-opacity="0.64"/><rect x="843.8" y="654.0" width="1.0" height="1.0" fill-opacity="0.22"/><rect x="880.1" y="624.4" width="1.0" height="1.0" fill-opacity="0.37"/><rect x="853.5" y="643.1" width="1.0" height="1.0" fill-opacity="0.28"/><rect x="905.2" y="649.0" width="1.0" height="1.0" fill-opacity="0.35"/><rect x="914.8" y="638.1" width="1.0" height="1.0" fill-opacity="0.37"/><rect x="712.1" y="557.1" width="1.0" height="1.0" fill-opacity="0.15"/><rect x="863.0" y="493.6" width="1.0" height="1.0" fill-opacity="0.19"/><rect x="754.5" y="594.9" width="1.0" height="1.0" fill-opacity="0.24"/><rect x="881.2" y="665.6" width="1.0" height="1.0" fill-opacity="0.22"/><rect x="842.4" y="517.3" width="1.1" height="1.1" fill-opacity="0.46"/><rect x="809.9" y="545.1" width="1.0" height="1.0" fill-opacity="0.12"/><rect x="678.5" y="543.0" width="1.0" height="1.0" fill-opacity="0.38"/><rect x="829.1" y="494.1" width="1.1" height="1.1" fill-opacity="0.47"/><rect x="792.1" y="616.4" width="1.1" height="1.1" fill-opacity="0.68"/><rect x="777.8" y="541.1" width="1.0" height="1.0" fill-opacity="0.20"/><rect x="853.8" y="568.1" width="1.0" height="1.0" fill-opacity="0.16"/><rect x="863.5" y="661.8" width="1.0" height="1.0" fill-opacity="0.28"/><rect x="716.4" y="488.6" width="1.0" height="1.0" fill-opacity="0.17"/><rect x="851.2" y="588.5" width="1.0" height="1.0" fill-opacity="0.37"/><rect x="691.8" y="500.3" width="1.0" height="1.0" fill-opacity="0.24"/><rect x="873.4" y="609.2" width="1.0" height="1.0" fill-opacity="0.34"/><rect x="766.2" y="503.0" width="1.0" height="1.0" fill-opacity="0.13"/><rect x="732.4" y="487.5" width="1.0" height="1.0" fill-opacity="0.14"/><rect x="804.0" y="505.8" width="1.0" height="1.0" fill-opacity="0.33"/><rect x="759.6" y="504.4" width="1.0" height="1.0" fill-opacity="0.31"/><rect x="887.5" y="585.1" width="1.0" height="1.0" fill-opacity="0.34"/><rect x="838.5" y="663.3" width="1.0" height="1.0" fill-opacity="0.32"/><rect x="828.0" y="569.1" width="1.0" height="1.0" fill-opacity="0.24"/><rect x="740.4" y="593.9" width="1.0" height="1.0" fill-opacity="0.25"/><rect x="691.9" y="506.5" width="1.0" height="1.0" fill-opacity="0.30"/><rect x="912.8" y="629.4" width="1.0" height="1.0" fill-opacity="0.24"/><rect x="797.9" y="631.5" width="1.0" height="1.0" fill-opacity="0.36"/><rect x="792.7" y="556.0" width="1.0" height="1.0" fill-opacity="0.21"/><rect x="914.9" y="490.6" width="1.0" height="1.0" fill-opacity="0.14"/><rect x="838.7" y="510.0" width="1.0" height="1.0" fill-opacity="0.23"/><rect x="820.7" y="624.0" width="1.0" height="1.0" fill-opacity="0.20"/><rect x="765.2" y="647.2" width="1.0" height="1.0" fill-opacity="0.12"/><rect x="887.9" y="571.8" width="1.0" height="1.0" fill-opacity="0.16"/><rect x="889.0" y="621.3" width="1.0" height="1.0" fill-opacity="0.30"/><rect x="728.7" y="564.9" width="1.0" height="1.0" fill-opacity="0.13"/><rect x="899.7" y="544.3" width="1.0" height="1.0" fill-opacity="0.32"/><rect x="703.9" y="488.9" width="1.0" height="1.0" fill-opacity="0.24"/><rect x="891.4" y="629.1" width="1.0" height="1.0" fill-opacity="0.13"/><rect x="821.0" y="569.5" width="1.0" height="1.0" fill-opacity="0.36"/><rect x="727.4" y="601.6" width="1.0" height="1.0" fill-opacity="0.36"/><rect x="902.9" y="597.0" width="1.0" height="1.0" fill-opacity="0.31"/><rect x="892.1" y="629.9" width="1.0" height="1.0" fill-opacity="0.25"/><rect x="711.2" y="583.6" width="1.5" height="1.5" fill-opacity="0.96"/><rect x="737.0" y="584.7" width="1.0" height="1.0" fill-opacity="0.16"/><rect x="854.3" y="623.2" width="1.0" height="1.0" fill-opacity="0.23"/><rect x="843.1" y="617.3" width="1.0" height="1.0" fill-opacity="0.15"/><rect x="700.7" y="513.5" width="1.1" height="1.1" fill-opacity="0.55"/><rect x="830.7" y="549.8" width="1.0" height="1.0" fill-opacity="0.17"/><rect x="909.0" y="594.6" width="1.0" height="1.0" fill-opacity="0.30"/><rect x="819.7" y="596.1" width="1.1" height="1.1" fill-opacity="0.58"/><rect x="885.7" y="662.4" width="1.0" height="1.0" fill-opacity="0.29"/><rect x="766.7" y="558.4" width="1.0" height="1.0" fill-opacity="0.29"/><rect x="761.5" y="547.5" width="1.1" height="1.1" fill-opacity="0.64"/><rect x="838.3" y="638.9" width="1.0" height="1.0" fill-opacity="0.29"/><rect x="737.5" y="540.7" width="1.0" height="1.0" fill-opacity="0.33"/><rect x="896.3" y="538.3" width="1.0" height="1.0" fill-opacity="0.15"/><rect x="711.7" y="600.7" width="1.1" height="1.1" fill-opacity="0.43"/><rect x="738.3" y="623.2" width="1.0" height="1.0" fill-opacity="0.35"/><rect x="761.6" y="570.1" width="1.0" height="1.0" fill-opacity="0.20"/><rect x="778.6" y="533.7" width="1.1" height="1.1" fill-opacity="0.41"/><rect x="829.4" y="631.3" width="1.0" height="1.0" fill-opacity="0.17"/><rect x="706.4" y="496.4" width="1.1" height="1.1" fill-opacity="0.58"/><rect x="681.6" y="566.3" width="1.0" height="1.0" fill-opacity="0.20"/><rect x="686.3" y="560.3" width="1.0" height="1.0" fill-opacity="0.37"/><rect x="763.3" y="653.6" width="1.1" height="1.1" fill-opacity="0.57"/><rect x="707.9" y="632.3" width="1.0" height="1.0" fill-opacity="0.26"/><rect x="701.1" y="499.2" width="1.0" height="1.0" fill-opacity="0.16"/><rect x="913.1" y="589.5" width="1.1" height="1.1" fill-opacity="0.69"/><rect x="857.6" y="602.1" width="1.0" height="1.0" fill-opacity="0.32"/><rect x="836.6" y="511.4" width="1.0" height="1.0" fill-opacity="0.23"/><rect x="800.2" y="614.6" width="1.0" height="1.0" fill-opacity="0.27"/><rect x="865.0" y="635.5" width="1.0" height="1.0" fill-opacity="0.16"/><rect x="689.2" y="511.8" width="1.5" height="1.5" fill-opacity="0.79"/><rect x="782.0" y="568.6" width="1.0" height="1.0" fill-opacity="0.19"/><rect x="862.5" y="543.7" width="1.1" height="1.1" fill-opacity="0.64"/><rect x="678.3" y="583.9" width="1.0" height="1.0" fill-opacity="0.35"/><rect x="694.4" y="531.7" width="1.1" height="1.1" fill-opacity="0.58"/><rect x="836.1" y="558.8" width="1.0" height="1.0" fill-opacity="0.17"/><rect x="787.6" y="529.9" width="1.0" height="1.0" fill-opacity="0.15"/><rect x="710.6" y="518.7" width="1.0" height="1.0" fill-opacity="0.27"/><rect x="678.7" y="665.6" width="1.1" height="1.1" fill-opacity="0.51"/><rect x="715.6" y="635.6" width="1.5" height="1.5" fill-opacity="0.75"/><rect x="857.2" y="634.1" width="1.5" height="1.5" fill-opacity="0.76"/><rect x="706.6" y="512.6" width="1.0" height="1.0" fill-opacity="0.35"/><rect x="893.7" y="570.1" width="1.0" height="1.0" fill-opacity="0.21"/><rect x="735.2" y="602.6" width="1.1" height="1.1" fill-opacity="0.63"/><rect x="781.6" y="567.0" width="1.0" height="1.0" fill-opacity="0.22"/><rect x="785.9" y="609.5" width="1.1" height="1.1" fill-opacity="0.50"/><rect x="812.3" y="509.0" width="1.0" height="1.0" fill-opacity="0.22"/><rect x="763.1" y="488.0" width="1.0" height="1.0" fill-opacity="0.23"/><rect x="901.3" y="637.8" width="1.0" height="1.0" fill-opacity="0.20"/><rect x="765.4" y="539.9" width="1.0" height="1.0" fill-opacity="0.27"/><rect x="876.9" y="553.0" width="1.0" height="1.0" fill-opacity="0.15"/><rect x="681.6" y="624.4" width="1.0" height="1.0" fill-opacity="0.31"/><rect x="865.4" y="497.5" width="1.0" height="1.0" fill-opacity="0.20"/><rect x="860.2" y="619.1" width="1.0" height="1.0" fill-opacity="0.24"/><rect x="762.2" y="569.7" width="1.1" height="1.1" fill-opacity="0.48"/><rect x="870.1" y="653.1" width="1.0" height="1.0" fill-opacity="0.37"/><rect x="900.3" y="513.8" width="1.5" height="1.5" fill-opacity="0.76"/><rect x="868.7" y="504.5" width="1.0" height="1.0" fill-opacity="0.23"/><rect x="876.9" y="608.6" width="1.0" height="1.0" fill-opacity="0.35"/><rect x="883.1" y="576.8" width="1.0" height="1.0" fill-opacity="0.19"/><rect x="747.3" y="559.9" width="1.5" height="1.5" fill-opacity="0.88"/><rect x="872.2" y="495.3" width="1.0" height="1.0" fill-opacity="0.31"/><rect x="758.7" y="524.3" width="1.0" height="1.0" fill-opacity="0.13"/><rect x="775.7" y="583.6" width="1.0" height="1.0" fill-opacity="0.27"/><rect x="746.9" y="485.1" width="1.0" height="1.0" fill-opacity="0.21"/><rect x="794.5" y="552.3" width="1.0" height="1.0" fill-opacity="0.13"/><rect x="748.3" y="537.4" width="1.0" height="1.0" fill-opacity="0.13"/><rect x="791.9" y="485.6" width="1.1" height="1.1" fill-opacity="0.51"/><rect x="783.2" y="579.8" width="1.0" height="1.0" fill-opacity="0.15"/><rect x="864.1" y="585.5" width="1.0" height="1.0" fill-opacity="0.21"/><rect x="856.0" y="575.6" width="1.1" height="1.1" fill-opacity="0.65"/><rect x="889.8" y="617.0" width="1.0" height="1.0" fill-opacity="0.24"/><rect x="804.4" y="589.7" width="1.0" height="1.0" fill-opacity="0.33"/><rect x="881.4" y="491.7" width="1.1" height="1.1" fill-opacity="0.58"/><rect x="819.8" y="650.9" width="1.0" height="1.0" fill-opacity="0.24"/><rect x="767.0" y="658.4" width="1.0" height="1.0" fill-opacity="0.27"/><rect x="712.2" y="622.2" width="1.0" height="1.0" fill-opacity="0.31"/><rect x="750.8" y="646.3" width="1.0" height="1.0" fill-opacity="0.18"/><rect x="851.8" y="645.5" width="1.1" height="1.1" fill-opacity="0.48"/><rect x="697.2" y="613.9" width="1.1" height="1.1" fill-opacity="0.42"/><rect x="899.6" y="580.2" width="1.0" height="1.0" fill-opacity="0.24"/><rect x="758.1" y="501.4" width="1.1" height="1.1" fill-opacity="0.68"/><rect x="707.4" y="564.9" width="1.0" height="1.0" fill-opacity="0.29"/><rect x="704.0" y="544.0" width="1.0" height="1.0" fill-opacity="0.24"/><rect x="781.1" y="592.9" width="1.5" height="1.5" fill-opacity="0.98"/><rect x="893.0" y="636.2" width="1.0" height="1.0" fill-opacity="0.18"/><rect x="787.0" y="601.7" width="1.0" height="1.0" fill-opacity="0.21"/><rect x="913.1" y="540.1" width="1.0" height="1.0" fill-opacity="0.14"/><rect x="727.6" y="617.9" width="1.1" height="1.1" fill-opacity="0.41"/><rect x="734.2" y="527.1" width="1.1" height="1.1" fill-opacity="0.67"/><rect x="740.4" y="501.0" width="1.5" height="1.5" fill-opacity="0.99"/><rect x="847.8" y="569.9" width="1.1" height="1.1" fill-opacity="0.63"/><rect x="798.7" y="532.5" width="1.0" height="1.0" fill-opacity="0.29"/><rect x="754.9" y="600.9" width="1.0" height="1.0" fill-opacity="0.37"/><rect x="728.1" y="524.1" width="1.5" height="1.5" fill-opacity="0.99"/><rect x="897.3" y="638.5" width="1.1" height="1.1" fill-opacity="0.65"/><rect x="812.3" y="495.8" width="1.1" height="1.1" fill-opacity="0.65"/><rect x="876.6" y="490.1" width="1.0" height="1.0" fill-opacity="0.31"/><rect x="793.6" y="648.2" width="1.5" height="1.5" fill-opacity="0.83"/><rect x="838.1" y="605.7" width="1.0" height="1.0" fill-opacity="0.22"/><rect x="829.6" y="494.6" width="1.1" height="1.1" fill-opacity="0.62"/><rect x="868.2" y="568.0" width="1.0" height="1.0" fill-opacity="0.24"/><rect x="839.3" y="584.0" width="1.0" height="1.0" fill-opacity="0.12"/><rect x="772.3" y="527.5" width="1.0" height="1.0" fill-opacity="0.18"/><rect x="776.5" y="611.3" width="1.1" height="1.1" fill-opacity="0.60"/><rect x="682.9" y="643.4" width="1.0" height="1.0" fill-opacity="0.31"/><rect x="823.4" y="547.9" width="1.0" height="1.0" fill-opacity="0.14"/><rect x="835.4" y="492.0" width="1.0" height="1.0" fill-opacity="0.36"/><rect x="836.3" y="594.8" width="1.1" height="1.1" fill-opacity="0.69"/><rect x="870.6" y="666.1" width="1.0" height="1.0" fill-opacity="0.12"/><rect x="823.6" y="600.8" width="1.1" height="1.1" fill-opacity="0.58"/><rect x="764.1" y="482.9" width="1.1" height="1.1" fill-opacity="0.59"/><rect x="911.5" y="592.4" width="1.1" height="1.1" fill-opacity="0.63"/><rect x="912.8" y="568.0" width="1.1" height="1.1" fill-opacity="0.52"/><rect x="680.7" y="542.6" width="1.0" height="1.0" fill-opacity="0.38"/><rect x="771.6" y="533.1" width="1.0" height="1.0" fill-opacity="0.15"/><rect x="750.4" y="555.5" width="1.0" height="1.0" fill-opacity="0.28"/><rect x="778.2" y="631.2" width="1.0" height="1.0" fill-opacity="0.37"/><rect x="724.4" y="580.7" width="1.0" height="1.0" fill-opacity="0.12"/><rect x="749.5" y="648.6" width="1.0" height="1.0" fill-opacity="0.25"/></g>
<circle cx="744.3" cy="626.5" r="2.6" fill="#fff" filter="url(#b05)"/>
<path d="M761.5 641L772 659M759 651.5L773.5 646.5" stroke="#c0a888" stroke-opacity="0.45" stroke-width="0.6"/><circle cx="766.2" cy="649" r="7" fill="url(#star)"/><circle cx="766.2" cy="649" r="1.8" fill="#fff"/>
<circle cx="748.6" cy="596.6" r="3.4" fill="url(#star)"/><circle cx="751.2" cy="592" r="2.8" fill="url(#star)"/>
<circle cx="765.4" cy="602" r="1.6" fill="url(#star)"/><circle cx="774" cy="590.8" r="1.4" fill="url(#star)"/><circle cx="758" cy="629" r="1.5" fill="url(#star)"/><circle cx="778" cy="635.8" r="1.4" fill="url(#star)"/>
<circle cx="843" cy="573" r="2" fill="#f0a860"/><circle cx="853.6" cy="577" r="1.4" fill="#e89858"/><circle cx="846.5" cy="569.5" r="1.1" fill="#f0c090"/><circle cx="877" cy="614" r="1.2" fill="#e8a870"/>
</g>
<text x="676.50" y="472.5" font-size="16.5" fill="#fff" textLength="36.92" lengthAdjust="spacingAndGlyphs">C/2025</text>
<text x="718.90" y="472.5" font-size="16.5" fill="#fff" textLength="16.69" lengthAdjust="spacingAndGlyphs">A6,</text>
<text x="739.40" y="472.5" font-size="16.5" fill="#fff" textLength="27.87" lengthAdjust="spacingAndGlyphs">2025.</text>
<text x="770.80" y="472.5" font-size="16.5" fill="#fff" textLength="12.27" lengthAdjust="spacingAndGlyphs">09.</text>
<text x="789.50" y="472.5" font-size="16.5" fill="#fff" textLength="13.68" lengthAdjust="spacingAndGlyphs">30.</text>
<text x="807.90" y="472.5" font-size="16.5" fill="#fff" textLength="23.17" lengthAdjust="spacingAndGlyphs">UTC,</text>
<text x="835.00" y="472.5" font-size="16.5" fill="#fff" textLength="46.31" lengthAdjust="spacingAndGlyphs">Bum-Suk</text>
<text x="886.80" y="472.5" font-size="16.5" fill="#fff" textLength="25.96" lengthAdjust="spacingAndGlyphs">Yeom</text>
<text x="293.60" y="697.7" font-size="18" fill="#fff" stroke="#fff" stroke-width="0.25" textLength="40.48" lengthAdjust="spacingAndGlyphs">Credit:</text>
<text x="375.70" y="697.7" font-size="18" fill="#fff" stroke="#fff" stroke-width="0.25" textLength="56.11" lengthAdjust="spacingAndGlyphs">(Bum-Suk</text>
<text x="435.70" y="697.7" font-size="18" fill="#fff" stroke="#fff" stroke-width="0.25" textLength="39.76" lengthAdjust="spacingAndGlyphs">Yeom),</text>
<text x="479.70" y="697.7" font-size="18" fill="#fff" stroke="#fff" stroke-width="0.25" textLength="36.12" lengthAdjust="spacingAndGlyphs">Comet</text>
<text x="521.60" y="697.7" font-size="18" fill="#fff" stroke="#fff" stroke-width="0.25" textLength="69.71" lengthAdjust="spacingAndGlyphs">Observation</text>
<text x="595.60" y="697.7" font-size="18" fill="#fff" stroke="#fff" stroke-width="0.25" textLength="93.81" lengthAdjust="spacingAndGlyphs">database(COBS)</text>
<g id="kor" fill="none" stroke="#fff" stroke-width="1.35" stroke-linecap="square" stroke-linejoin="miter">
<ellipse cx="341.2" cy="688.6" rx="2.3" ry="3.3"/><path d="M346.9 685V693M344.3 687.2H346.9M344.3 690.3H346.9M340.2 694.3H346.9V698.3H340.2Z"/>
<path d="M351.2 685.2V692H355.4V685.2M351.2 688.6H355.4M358.7 685V693.2M356.2 688.8H358.7M352.3 694.5H358.7V698.3H352.3Z"/>
<path d="M364 685.4L361 692.4M364.1 687L367.4 692.4M369.5 685V693.6M367.2 689H369.5M362.3 694.9H369.5V699"/>
</g>
<text x="697.9" y="698.9" font-size="17.3" fill="none" stroke="#26262c" stroke-opacity="0.5" stroke-width="2" textLength="232.7" lengthAdjust="spacingAndGlyphs">COBS @ Crni Vrh Observatory</text>
<text x="697.9" y="698.9" font-size="17.3" fill="#fff" stroke="#fff" stroke-width="0.4" textLength="232.7" lengthAdjust="spacingAndGlyphs">COBS @ Crni Vrh Observatory</text>
<path d="M91.7 172.2V712M90.4 710.8H935" stroke="#fff" stroke-width="2.4" fill="none"/>
<text x="87.5" y="180.8" font-size="15.6" fill="#fff" stroke="#fff" stroke-width="0.3" text-anchor="end">2.0</text>
<text x="87.5" y="236.6" font-size="15.6" fill="#fff" stroke="#fff" stroke-width="0.3" text-anchor="end">3.0</text>
<text x="87.5" y="292.4" font-size="15.6" fill="#fff" stroke="#fff" stroke-width="0.3" text-anchor="end">4.0</text>
<text x="87.5" y="348.1" font-size="15.6" fill="#fff" stroke="#fff" stroke-width="0.3" text-anchor="end">5.0</text>
<text x="87.5" y="403.9" font-size="15.6" fill="#fff" stroke="#fff" stroke-width="0.3" text-anchor="end">6.0</text>
<text x="87.5" y="459.7" font-size="15.6" fill="#fff" stroke="#fff" stroke-width="0.3" text-anchor="end">7.0</text>
<text x="87.5" y="515.5" font-size="15.6" fill="#fff" stroke="#fff" stroke-width="0.3" text-anchor="end">8.0</text>
<text x="87.5" y="571.3" font-size="15.6" fill="#fff" stroke="#fff" stroke-width="0.3" text-anchor="end">9.0</text>
<text x="87.5" y="627.0" font-size="15.6" fill="#fff" stroke="#fff" stroke-width="0.3" text-anchor="end">10.0</text>
<text x="87.5" y="682.8" font-size="15.6" fill="#fff" stroke="#fff" stroke-width="0.3" text-anchor="end">11.0</text>
<text transform="translate(164.0 732.6) scale(1 1.08)" font-size="16.8" fill="#fff" stroke="#fff" stroke-width="0.3" text-anchor="middle">Aug 24</text>
<text transform="translate(290.2 732.6) scale(1 1.08)" font-size="16.8" fill="#fff" stroke="#fff" stroke-width="0.3" text-anchor="middle">Sep 7</text>
<text transform="translate(416.4 732.6) scale(1 1.08)" font-size="16.8" fill="#fff" stroke="#fff" stroke-width="0.3" text-anchor="middle">Sep 21</text>
<text transform="translate(542.6 732.6) scale(1 1.08)" font-size="16.8" fill="#fff" stroke="#fff" stroke-width="0.3" text-anchor="middle">Oct 5</text>
<text transform="translate(668.8 732.6) scale(1 1.08)" font-size="16.8" fill="#fff" stroke="#fff" stroke-width="0.3" text-anchor="middle">Oct 19</text>
<text transform="translate(795.0 732.6) scale(1 1.08)" font-size="16.8" fill="#fff" stroke="#fff" stroke-width="0.3" text-anchor="middle">Nov 2</text>
<text transform="translate(921.2 732.6) scale(1 1.08)" font-size="16.8" fill="#fff" stroke="#fff" stroke-width="0.3" text-anchor="middle">Nov 16</text>
<text transform="translate(163.7 753.7) scale(1 1.08)" font-size="16.8" fill="#fff" stroke="#fff" stroke-width="0.3" text-anchor="middle">2025</text>
<text transform="translate(44 441) rotate(-90)" font-size="16.9" fill="#fff" stroke="#fff" stroke-width="0.25" text-anchor="middle">Apparent total magnitude</text>
<text x="549" y="416" font-size="15.7" fill="#fff" stroke="#fff" stroke-width="0.3">Oct 6</text>
<text x="601.5" y="362" font-size="15.7" fill="#fff" stroke="#fff" stroke-width="0.3">Oct 11</text>
<text x="656" y="305.3" font-size="15.7" fill="#fff" stroke="#fff" stroke-width="0.3">Oct 17</text>
<text x="734" y="192.4" font-size="14.2" fill="#f4b25c" stroke="#f4b25c" stroke-width="0.3" text-anchor="middle">(2.8 mag)</text>
<text x="711.4" y="211" font-size="15.7" fill="#f4b25c" stroke="#f4b25c" stroke-width="0.3" textLength="44.6" lengthAdjust="spacingAndGlyphs">Oct 27</text>
<text x="740" y="261.1" font-size="15.7" fill="#d05cf0" stroke="#d05cf0" stroke-width="0.3" textLength="44.6" lengthAdjust="spacingAndGlyphs">Oct 29</text>
<text x="762.6" y="277.1" font-size="14.2" fill="#d05cf0" stroke="#d05cf0" stroke-width="0.3" text-anchor="middle">(3.2 mag)</text>
<path d="M254.4 755.7h2.9v2.2h2.2v2.9h-2.2v2.2h-2.9v-2.2h-2.2v-2.9h2.2z" fill="#fff"/>
<path d="M356.8 755.7h2.9v2.2h2.2v2.9h-2.2v2.2h-2.9v-2.2h-2.2v-2.9h2.2z" fill="#00e8ba"/>
<path d="M431.6 759.4H474.4" stroke="#ffc60a" stroke-width="2"/>
<path d="M553.7 759.4H593" stroke="#ffc60a" stroke-width="2" stroke-dasharray="5.2 3.4"/>
<path d="M677.1 759.4H719.1" stroke="#e8623c" stroke-width="2"/>
<text transform="translate(285.0 765) scale(1 1.06)" font-size="14" fill="#fff" stroke="#fff" stroke-width="0.25">Visual</text>
<text transform="translate(387.4 765) scale(1 1.06)" font-size="14" fill="#fff" stroke="#fff" stroke-width="0.25">CCD</text>
<text transform="translate(482.1 765) scale(1 1.06)" font-size="14" fill="#fff" stroke="#fff" stroke-width="0.25">Simple fit</text>
<text transform="translate(604.3 765) scale(1 1.06)" font-size="14" fill="#fff" stroke="#fff" stroke-width="0.25">Scatter fit</text>
<text transform="translate(727.7 765) scale(1 1.06)" font-size="14" fill="#fff" stroke="#fff" stroke-width="0.25">Perihelion date</text>
<text x="82.0" y="816.6" font-size="17" fill="#d2d2d2" stroke="#d2d2d2" stroke-width="0.3" textLength="812.4" lengthAdjust="spacingAndGlyphs">This light curve is based on Comet Observation Database (COBS) visual observation data. The observations</text>
<text x="82.0" y="836.3" font-size="17" fill="#d2d2d2" stroke="#d2d2d2" stroke-width="0.3" textLength="775.2" lengthAdjust="spacingAndGlyphs">of comet include data from both experienced and novice observers using a variety of instruments and</text>
<text x="82.0" y="856.4" font-size="17" fill="#d2d2d2" stroke="#d2d2d2" stroke-width="0.3" textLength="793.1" lengthAdjust="spacingAndGlyphs">measurement methods. So, the predicted magnitude of a comet may show a difference from the actual</text>
<text x="82" y="875.8" font-size="17" fill="#d2d2d2" stroke="#d2d2d2" stroke-width="0.3" textLength="161" lengthAdjust="spacingAndGlyphs">observed magnitude.</text>
<text x="249.5" y="875.8" font-size="17" fill="#4f8ef6" stroke="#4f8ef6" stroke-width="0.3" textLength="574.5" lengthAdjust="spacingAndGlyphs">You want to use this light curve only to see the trend of brightness change.</text>
</svg></body></html>
